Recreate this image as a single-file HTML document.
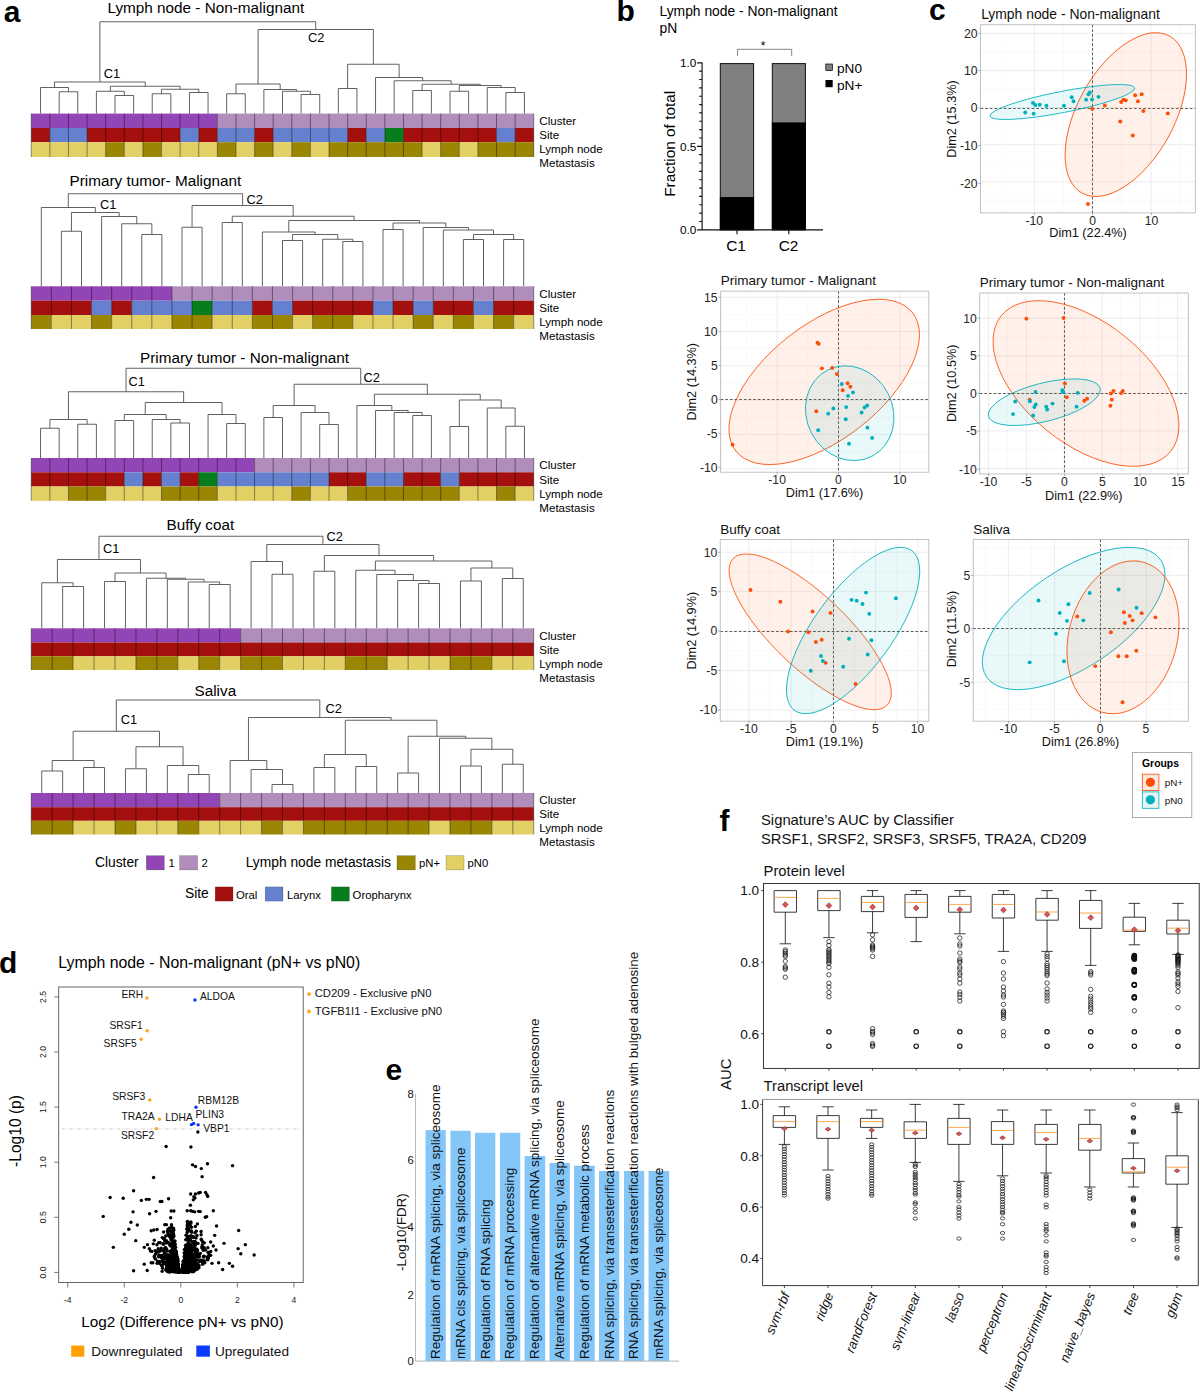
<!DOCTYPE html>
<html><head><meta charset="utf-8"><title>Figure</title>
<style>
html,body{margin:0;padding:0;background:#fff;}
body{width:1200px;height:1393px;overflow:hidden;}
svg{display:block;font-family:"Liberation Sans",sans-serif;}
text{white-space:pre;}
</style></head><body>
<svg width="1200" height="1393" viewBox="0 0 1200 1393">
<rect width="1200" height="1393" fill="#fff"/>
<g id="pa">
<path d="M59.17 113.6V91.75H77.78V113.6M40.56 113.6V87.5H68.47V91.75M115 113.6V95.5H133.61V113.6M96.39 113.6V91.25H124.31V95.5M152.22 113.6V93.75H170.83V113.6M189.44 113.6V92.5H208.06V113.6M161.53 93.75V89.25H198.75V92.5M110.35 91.25V86.25H180.14V89.25M54.51 87.5V82H145.24V86.25M226.67 113.6V93.75H245.28V113.6M301.11 113.6V94.5H319.72V113.6M282.5 113.6V91.25H310.42V94.5M263.89 113.6V89.5H296.46V91.25M235.97 93.75V84H280.17V89.5M338.33 113.6V88.5H356.94V113.6M412.78 113.6V90.5H431.39V113.6M450 113.6V91.25H468.61V113.6M505.83 113.6V92.5H524.44V113.6M487.22 113.6V87.5H515.14V92.5M459.31 91.25V85.5H501.18V87.5M422.08 90.5V84.25H480.24V85.5M394.17 113.6V80.75H451.16V84.25M375.56 113.6V77.5H422.66V80.75M347.64 88.5V64.25H399.11V77.5M258.07 84V29.5H373.37V64.25M99.88 82V21.75H315.72V29.5M61.4 286.3V231.25H81.5V286.3M141.8 286.3V234.5H161.9V286.3M121.7 286.3V223.75H151.85V234.5M101.6 286.3V216.5H136.78V223.75M71.45 231.25V212.5H119.19V216.5M41.3 286.3V207.5H95.32V212.5M182 286.3V227.25H202.1V286.3M222.2 286.3V222.5H242.3V286.3M282.5 286.3V240.5H302.6V286.3M342.8 286.3V241.5H362.9V286.3M322.7 286.3V239.25H352.85V241.5M292.55 240.5V234.5H337.78V239.25M262.4 286.3V232H315.16V234.5M383 286.3V229.5H403.1V286.3M463.4 286.3V239.5H483.5V286.3M503.6 286.3V239.5H523.7V286.3M473.45 239.5V234.5H513.65V239.5M443.3 286.3V230H493.55V234.5M423.2 286.3V227.5H468.43V230M393.05 229.5V223H445.81V227.5M288.78 232V220.5H419.43V223M232.25 222.5V216.25H354.11V220.5M192.05 227.25V205.5H293.18V216.25M68.31 207.5V193.75H242.61V205.5M40.56 458V428.25H59.17V458M77.78 458V424.25H96.39V458M49.86 428.25V419.5H87.08V424.25M115 458V420.5H133.61V458M170.83 458V423H189.44V458M152.22 458V419.5H180.14V423M124.31 420.5V414.5H166.18V419.5M226.67 458V423.5H245.28V458M208.06 458V414.5H235.97V423.5M145.24 414.5V402.5H222.01V414.5M68.47 419.5V391.75H183.63V402.5M263.89 458V417.5H282.5V458M319.72 458V424.5H338.33V458M301.11 458V412.5H329.03V424.5M273.19 417.5V405.5H315.07V412.5M412.78 458V415.5H431.39V458M394.17 458V412.5H422.08V415.5M375.56 458V410.5H408.12V412.5M356.94 458V405.5H391.84V410.5M450 458V426.5H468.61V458M505.83 458V426.25H524.44V458M487.22 458V408H515.14V426.25M459.31 426.5V400H501.18V408M374.39 405.5V394.25H480.24V400M294.13 405.5V384.25H427.32V394.25M126.05 391.75V368.25H360.72V384.25M62.66 628.3V586.5H83.59V628.3M41.72 628.3V582.75H73.12V586.5M104.53 628.3V581.5H125.47V628.3M209.22 628.3V584.5H230.16V628.3M188.28 628.3V582H219.69V584.5M167.34 628.3V579.25H203.98V582M146.41 628.3V578.25H185.66V579.25M115 581.5V573H166.04V578.25M57.42 582.75V559.5H140.52V573M272.03 628.3V574.25H292.97V628.3M251.09 628.3V561.5H282.5V574.25M313.91 628.3V571.25H334.84V628.3M418.59 628.3V583.5H439.53V628.3M397.66 628.3V580.5H429.06V583.5M376.72 628.3V574.5H413.36V580.5M355.78 628.3V570.25H395.04V574.5M460.47 628.3V581H481.41V628.3M502.34 628.3V578.5H523.28V628.3M470.94 581V568H512.81V578.5M375.41 570.25V561H491.88V568M324.38 571.25V555.5H433.64V561M266.8 561.5V544.5H379.01V555.5M98.97 559.5V536.25H322.9V544.5M41.72 793V771H62.66V793M83.59 793V767.5H104.53V793M52.19 771V760.5H94.06V767.5M125.47 793V768.75H146.41V793M188.28 793V774.5H209.22V793M167.34 793V765.5H198.75V774.5M135.94 768.75V746.75H183.05V765.5M73.12 760.5V731.25H159.49V746.75M272.03 793V784.5H292.97V793M251.09 793V769.5H282.5V784.5M230.16 793V760.5H266.8V769.5M313.91 793V767.5H334.84V793M355.78 793V766.5H376.72V793M324.38 767.5V754.5H366.25V766.5M397.66 793V773H418.59V793M460.47 793V766H481.41V793M502.34 793V764.25H523.28V793M470.94 766V749.25H512.81V764.25M439.53 793V738.25H491.88V749.25M408.12 773V736.25H465.7V738.25M345.31 754.5V720.25H436.91V736.25M248.48 760.5V717.5H391.11V720.25M116.31 731.25V700H319.79V717.5" stroke="#505050" stroke-width=".9" fill="none" shape-rendering="geometricPrecision"/>
<rect x="31.25" y="113.6" width="186.11" height="14.4" fill="#9245b5"/>
<rect x="217.36" y="113.6" width="316.39" height="14.4" fill="#b08dba"/>
<rect x="31.25" y="128" width="18.61" height="14.2" fill="#a3100e"/>
<rect x="49.86" y="128" width="37.22" height="14.2" fill="#6580cf"/>
<rect x="87.08" y="128" width="93.06" height="14.2" fill="#a3100e"/>
<rect x="180.14" y="128" width="18.61" height="14.2" fill="#6580cf"/>
<rect x="198.75" y="128" width="18.61" height="14.2" fill="#a3100e"/>
<rect x="217.36" y="128" width="37.22" height="14.2" fill="#6580cf"/>
<rect x="254.58" y="128" width="18.61" height="14.2" fill="#a3100e"/>
<rect x="273.19" y="128" width="74.44" height="14.2" fill="#6580cf"/>
<rect x="347.64" y="128" width="18.61" height="14.2" fill="#a3100e"/>
<rect x="366.25" y="128" width="18.61" height="14.2" fill="#6580cf"/>
<rect x="384.86" y="128" width="18.61" height="14.2" fill="#087d1e"/>
<rect x="403.47" y="128" width="93.06" height="14.2" fill="#a3100e"/>
<rect x="496.53" y="128" width="18.61" height="14.2" fill="#6580cf"/>
<rect x="515.14" y="128" width="18.61" height="14.2" fill="#a3100e"/>
<rect x="31.25" y="142.2" width="74.44" height="14.8" fill="#e3d065"/>
<rect x="105.69" y="142.2" width="18.61" height="14.8" fill="#9b8603"/>
<rect x="124.31" y="142.2" width="18.61" height="14.8" fill="#e3d065"/>
<rect x="142.92" y="142.2" width="18.61" height="14.8" fill="#9b8603"/>
<rect x="161.53" y="142.2" width="55.83" height="14.8" fill="#e3d065"/>
<rect x="217.36" y="142.2" width="18.61" height="14.8" fill="#9b8603"/>
<rect x="235.97" y="142.2" width="18.61" height="14.8" fill="#e3d065"/>
<rect x="254.58" y="142.2" width="18.61" height="14.8" fill="#9b8603"/>
<rect x="273.19" y="142.2" width="18.61" height="14.8" fill="#e3d065"/>
<rect x="291.81" y="142.2" width="18.61" height="14.8" fill="#9b8603"/>
<rect x="310.42" y="142.2" width="18.61" height="14.8" fill="#e3d065"/>
<rect x="329.03" y="142.2" width="93.06" height="14.8" fill="#9b8603"/>
<rect x="422.08" y="142.2" width="18.61" height="14.8" fill="#e3d065"/>
<rect x="440.69" y="142.2" width="18.61" height="14.8" fill="#9b8603"/>
<rect x="459.31" y="142.2" width="18.61" height="14.8" fill="#e3d065"/>
<rect x="477.92" y="142.2" width="55.83" height="14.8" fill="#9b8603"/>
<path d="M31.25 113.6V157M49.86 113.6V157M68.47 113.6V157M87.08 113.6V157M105.69 113.6V157M124.31 113.6V157M142.92 113.6V157M161.53 113.6V157M180.14 113.6V157M198.75 113.6V157M217.36 113.6V157M235.97 113.6V157M254.58 113.6V157M273.19 113.6V157M291.81 113.6V157M310.42 113.6V157M329.03 113.6V157M347.64 113.6V157M366.25 113.6V157M384.86 113.6V157M403.47 113.6V157M422.08 113.6V157M440.69 113.6V157M459.31 113.6V157M477.92 113.6V157M496.53 113.6V157M515.14 113.6V157M533.75 113.6V157" stroke="#000" stroke-opacity=".6" stroke-width=".7" fill="none"/>
<text x="539.3" y="124.8" font-size="11.6">Cluster</text>
<text x="539.3" y="139.2" font-size="11.6">Site</text>
<text x="539.3" y="153.4" font-size="11.6">Lymph node</text>
<text x="539.3" y="167.4" font-size="11.6">Metastasis</text>
<text x="107.5" y="13.1" font-size="15.3">Lymph node - Non-malignant</text>
<text x="103.7" y="78" font-size="12.8">C1</text>
<text x="308" y="42" font-size="12.8">C2</text>
<rect x="31.25" y="286.3" width="140.7" height="14.4" fill="#9245b5"/>
<rect x="171.95" y="286.3" width="361.8" height="14.4" fill="#b08dba"/>
<rect x="31.25" y="300.7" width="60.3" height="14.3" fill="#a3100e"/>
<rect x="91.55" y="300.7" width="20.1" height="14.3" fill="#6580cf"/>
<rect x="111.65" y="300.7" width="20.1" height="14.3" fill="#a3100e"/>
<rect x="131.75" y="300.7" width="60.3" height="14.3" fill="#6580cf"/>
<rect x="192.05" y="300.7" width="20.1" height="14.3" fill="#087d1e"/>
<rect x="212.15" y="300.7" width="40.2" height="14.3" fill="#6580cf"/>
<rect x="252.35" y="300.7" width="20.1" height="14.3" fill="#a3100e"/>
<rect x="272.45" y="300.7" width="20.1" height="14.3" fill="#6580cf"/>
<rect x="292.55" y="300.7" width="80.4" height="14.3" fill="#a3100e"/>
<rect x="372.95" y="300.7" width="20.1" height="14.3" fill="#6580cf"/>
<rect x="393.05" y="300.7" width="20.1" height="14.3" fill="#a3100e"/>
<rect x="413.15" y="300.7" width="20.1" height="14.3" fill="#6580cf"/>
<rect x="433.25" y="300.7" width="40.2" height="14.3" fill="#a3100e"/>
<rect x="473.45" y="300.7" width="20.1" height="14.3" fill="#6580cf"/>
<rect x="493.55" y="300.7" width="40.2" height="14.3" fill="#a3100e"/>
<rect x="31.25" y="315" width="20.1" height="14" fill="#9b8603"/>
<rect x="51.35" y="315" width="40.2" height="14" fill="#e3d065"/>
<rect x="91.55" y="315" width="20.1" height="14" fill="#9b8603"/>
<rect x="111.65" y="315" width="60.3" height="14" fill="#e3d065"/>
<rect x="171.95" y="315" width="40.2" height="14" fill="#9b8603"/>
<rect x="212.15" y="315" width="40.2" height="14" fill="#e3d065"/>
<rect x="252.35" y="315" width="40.2" height="14" fill="#9b8603"/>
<rect x="292.55" y="315" width="20.1" height="14" fill="#e3d065"/>
<rect x="312.65" y="315" width="40.2" height="14" fill="#9b8603"/>
<rect x="352.85" y="315" width="60.3" height="14" fill="#e3d065"/>
<rect x="413.15" y="315" width="20.1" height="14" fill="#9b8603"/>
<rect x="433.25" y="315" width="20.1" height="14" fill="#e3d065"/>
<rect x="453.35" y="315" width="20.1" height="14" fill="#9b8603"/>
<rect x="473.45" y="315" width="20.1" height="14" fill="#e3d065"/>
<rect x="493.55" y="315" width="20.1" height="14" fill="#9b8603"/>
<rect x="513.65" y="315" width="20.1" height="14" fill="#e3d065"/>
<path d="M31.25 286.3V329M51.35 286.3V329M71.45 286.3V329M91.55 286.3V329M111.65 286.3V329M131.75 286.3V329M151.85 286.3V329M171.95 286.3V329M192.05 286.3V329M212.15 286.3V329M232.25 286.3V329M252.35 286.3V329M272.45 286.3V329M292.55 286.3V329M312.65 286.3V329M332.75 286.3V329M352.85 286.3V329M372.95 286.3V329M393.05 286.3V329M413.15 286.3V329M433.25 286.3V329M453.35 286.3V329M473.45 286.3V329M493.55 286.3V329M513.65 286.3V329M533.75 286.3V329" stroke="#000" stroke-opacity=".6" stroke-width=".7" fill="none"/>
<text x="539.3" y="297.5" font-size="11.6">Cluster</text>
<text x="539.3" y="311.9" font-size="11.6">Site</text>
<text x="539.3" y="326.2" font-size="11.6">Lymph node</text>
<text x="539.3" y="340.2" font-size="11.6">Metastasis</text>
<text x="69.5" y="186.3" font-size="15.3">Primary tumor- Malignant</text>
<text x="100" y="208.5" font-size="12.8">C1</text>
<text x="246.5" y="204" font-size="12.8">C2</text>
<rect x="31.25" y="458" width="223.33" height="14.3" fill="#9245b5"/>
<rect x="254.58" y="458" width="279.17" height="14.3" fill="#b08dba"/>
<rect x="31.25" y="472.3" width="93.06" height="14.2" fill="#a3100e"/>
<rect x="124.31" y="472.3" width="18.61" height="14.2" fill="#6580cf"/>
<rect x="142.92" y="472.3" width="18.61" height="14.2" fill="#a3100e"/>
<rect x="161.53" y="472.3" width="18.61" height="14.2" fill="#6580cf"/>
<rect x="180.14" y="472.3" width="18.61" height="14.2" fill="#a3100e"/>
<rect x="198.75" y="472.3" width="18.61" height="14.2" fill="#087d1e"/>
<rect x="217.36" y="472.3" width="111.67" height="14.2" fill="#6580cf"/>
<rect x="329.03" y="472.3" width="37.22" height="14.2" fill="#a3100e"/>
<rect x="366.25" y="472.3" width="37.22" height="14.2" fill="#6580cf"/>
<rect x="403.47" y="472.3" width="37.22" height="14.2" fill="#a3100e"/>
<rect x="440.69" y="472.3" width="18.61" height="14.2" fill="#6580cf"/>
<rect x="459.31" y="472.3" width="74.44" height="14.2" fill="#a3100e"/>
<rect x="31.25" y="486.5" width="37.22" height="14.3" fill="#e3d065"/>
<rect x="68.47" y="486.5" width="37.22" height="14.3" fill="#9b8603"/>
<rect x="105.69" y="486.5" width="55.83" height="14.3" fill="#e3d065"/>
<rect x="161.53" y="486.5" width="55.83" height="14.3" fill="#9b8603"/>
<rect x="217.36" y="486.5" width="74.44" height="14.3" fill="#e3d065"/>
<rect x="291.81" y="486.5" width="18.61" height="14.3" fill="#9b8603"/>
<rect x="310.42" y="486.5" width="37.22" height="14.3" fill="#e3d065"/>
<rect x="347.64" y="486.5" width="111.67" height="14.3" fill="#9b8603"/>
<rect x="459.31" y="486.5" width="37.22" height="14.3" fill="#e3d065"/>
<rect x="496.53" y="486.5" width="18.61" height="14.3" fill="#9b8603"/>
<rect x="515.14" y="486.5" width="18.61" height="14.3" fill="#e3d065"/>
<path d="M31.25 458V500.8M49.86 458V500.8M68.47 458V500.8M87.08 458V500.8M105.69 458V500.8M124.31 458V500.8M142.92 458V500.8M161.53 458V500.8M180.14 458V500.8M198.75 458V500.8M217.36 458V500.8M235.97 458V500.8M254.58 458V500.8M273.19 458V500.8M291.81 458V500.8M310.42 458V500.8M329.03 458V500.8M347.64 458V500.8M366.25 458V500.8M384.86 458V500.8M403.47 458V500.8M422.08 458V500.8M440.69 458V500.8M459.31 458V500.8M477.92 458V500.8M496.53 458V500.8M515.14 458V500.8M533.75 458V500.8" stroke="#000" stroke-opacity=".6" stroke-width=".7" fill="none"/>
<text x="539.3" y="469.2" font-size="11.6">Cluster</text>
<text x="539.3" y="483.5" font-size="11.6">Site</text>
<text x="539.3" y="497.7" font-size="11.6">Lymph node</text>
<text x="539.3" y="511.7" font-size="11.6">Metastasis</text>
<text x="140" y="363" font-size="15.3">Primary tumor - Non-malignant</text>
<text x="128.5" y="385.5" font-size="12.8">C1</text>
<text x="363.5" y="382" font-size="12.8">C2</text>
<rect x="31.25" y="628.3" width="209.38" height="14.2" fill="#9245b5"/>
<rect x="240.62" y="628.3" width="293.12" height="14.2" fill="#b08dba"/>
<rect x="31.25" y="642.5" width="502.5" height="13.8" fill="#a3100e"/>
<rect x="31.25" y="656.3" width="41.88" height="13.7" fill="#9b8603"/>
<rect x="73.12" y="656.3" width="62.81" height="13.7" fill="#e3d065"/>
<rect x="135.94" y="656.3" width="41.88" height="13.7" fill="#9b8603"/>
<rect x="177.81" y="656.3" width="20.94" height="13.7" fill="#e3d065"/>
<rect x="198.75" y="656.3" width="20.94" height="13.7" fill="#9b8603"/>
<rect x="219.69" y="656.3" width="20.94" height="13.7" fill="#e3d065"/>
<rect x="240.62" y="656.3" width="41.88" height="13.7" fill="#9b8603"/>
<rect x="282.5" y="656.3" width="62.81" height="13.7" fill="#e3d065"/>
<rect x="345.31" y="656.3" width="41.88" height="13.7" fill="#9b8603"/>
<rect x="387.19" y="656.3" width="62.81" height="13.7" fill="#e3d065"/>
<rect x="450" y="656.3" width="41.88" height="13.7" fill="#9b8603"/>
<rect x="491.88" y="656.3" width="41.88" height="13.7" fill="#e3d065"/>
<path d="M31.25 628.3V670M52.19 628.3V670M73.12 628.3V670M94.06 628.3V670M115 628.3V670M135.94 628.3V670M156.88 628.3V670M177.81 628.3V670M198.75 628.3V670M219.69 628.3V670M240.62 628.3V670M261.56 628.3V670M282.5 628.3V670M303.44 628.3V670M324.38 628.3V670M345.31 628.3V670M366.25 628.3V670M387.19 628.3V670M408.12 628.3V670M429.06 628.3V670M450 628.3V670M470.94 628.3V670M491.88 628.3V670M512.81 628.3V670M533.75 628.3V670" stroke="#000" stroke-opacity=".6" stroke-width=".7" fill="none"/>
<text x="539.3" y="639.5" font-size="11.6">Cluster</text>
<text x="539.3" y="653.7" font-size="11.6">Site</text>
<text x="539.3" y="667.5" font-size="11.6">Lymph node</text>
<text x="539.3" y="681.5" font-size="11.6">Metastasis</text>
<text x="166.5" y="530" font-size="15.3">Buffy coat</text>
<text x="103" y="552.5" font-size="12.8">C1</text>
<text x="326.5" y="541" font-size="12.8">C2</text>
<rect x="31.25" y="793" width="188.44" height="14.2" fill="#9245b5"/>
<rect x="219.69" y="793" width="314.06" height="14.2" fill="#b08dba"/>
<rect x="31.25" y="807.2" width="502.5" height="13.6" fill="#a3100e"/>
<rect x="31.25" y="820.8" width="41.88" height="13.7" fill="#9b8603"/>
<rect x="73.12" y="820.8" width="41.88" height="13.7" fill="#e3d065"/>
<rect x="115" y="820.8" width="20.94" height="13.7" fill="#9b8603"/>
<rect x="135.94" y="820.8" width="41.88" height="13.7" fill="#e3d065"/>
<rect x="177.81" y="820.8" width="20.94" height="13.7" fill="#9b8603"/>
<rect x="198.75" y="820.8" width="62.81" height="13.7" fill="#e3d065"/>
<rect x="261.56" y="820.8" width="20.94" height="13.7" fill="#9b8603"/>
<rect x="282.5" y="820.8" width="20.94" height="13.7" fill="#e3d065"/>
<rect x="303.44" y="820.8" width="125.62" height="13.7" fill="#9b8603"/>
<rect x="429.06" y="820.8" width="20.94" height="13.7" fill="#e3d065"/>
<rect x="450" y="820.8" width="41.88" height="13.7" fill="#9b8603"/>
<rect x="491.88" y="820.8" width="41.88" height="13.7" fill="#e3d065"/>
<path d="M31.25 793V834.5M52.19 793V834.5M73.12 793V834.5M94.06 793V834.5M115 793V834.5M135.94 793V834.5M156.88 793V834.5M177.81 793V834.5M198.75 793V834.5M219.69 793V834.5M240.62 793V834.5M261.56 793V834.5M282.5 793V834.5M303.44 793V834.5M324.38 793V834.5M345.31 793V834.5M366.25 793V834.5M387.19 793V834.5M408.12 793V834.5M429.06 793V834.5M450 793V834.5M470.94 793V834.5M491.88 793V834.5M512.81 793V834.5M533.75 793V834.5" stroke="#000" stroke-opacity=".6" stroke-width=".7" fill="none"/>
<text x="539.3" y="804.2" font-size="11.6">Cluster</text>
<text x="539.3" y="818.4" font-size="11.6">Site</text>
<text x="539.3" y="832" font-size="11.6">Lymph node</text>
<text x="539.3" y="846" font-size="11.6">Metastasis</text>
<text x="194.5" y="695.5" font-size="15.3">Saliva</text>
<text x="120.8" y="724.2" font-size="12.8">C1</text>
<text x="325.5" y="712.5" font-size="12.8">C2</text>
<text x="3.8" y="22.3" font-size="30" font-weight="bold">a</text>
<text x="95" y="867" font-size="13.8">Cluster</text>
<rect x="146.3" y="855.7" width="18" height="14.2" fill="#9245b5" stroke="#000" stroke-opacity=".35" stroke-width=".5"/>
<text x="168.5" y="867.2" font-size="11.3">1</text>
<rect x="179.6" y="855.7" width="18" height="14.2" fill="#b08dba" stroke="#000" stroke-opacity=".35" stroke-width=".5"/>
<text x="201.5" y="867.2" font-size="11.3">2</text>
<text x="245.7" y="867" font-size="13.8">Lymph node metastasis</text>
<rect x="397" y="855.7" width="18.3" height="14.2" fill="#9b8603" stroke="#000" stroke-opacity=".35" stroke-width=".5"/>
<text x="419" y="867.2" font-size="11.3">pN+</text>
<rect x="446" y="855.7" width="18" height="14.2" fill="#e3d065" stroke="#000" stroke-opacity=".35" stroke-width=".5"/>
<text x="467.5" y="867.2" font-size="11.3">pN0</text>
<text x="185" y="898.3" font-size="13.8">Site</text>
<rect x="215.2" y="886.9" width="17.8" height="14.2" fill="#a3100e" stroke="#000" stroke-opacity=".35" stroke-width=".5"/>
<text x="236" y="898.8" font-size="11.3">Oral</text>
<rect x="265.2" y="886.9" width="17.8" height="14.2" fill="#6580cf" stroke="#000" stroke-opacity=".35" stroke-width=".5"/>
<text x="287" y="898.8" font-size="11.3">Larynx</text>
<rect x="331.4" y="886.9" width="18" height="14.2" fill="#087d1e" stroke="#000" stroke-opacity=".35" stroke-width=".5"/>
<text x="352.6" y="898.8" font-size="11.3">Oropharynx</text>
</g>
<g id="pb">
<text x="616.6" y="21.4" font-size="30" font-weight="bold">b</text>
<text x="659.5" y="15.6" font-size="13.85">Lymph node - Non-malignant</text>
<text x="659.5" y="33.2" font-size="13.85">pN</text>
<rect x="720.3" y="63.6" width="33.3" height="166.2" fill="#80807f" stroke="#111" stroke-width="1"/><rect x="719.85" y="197.06" width="34.2" height="33.14" fill="#000"/>
<rect x="772.3" y="63.6" width="33.1" height="166.2" fill="#80807f" stroke="#111" stroke-width="1"/><rect x="771.85" y="122.43" width="34" height="107.77" fill="#000"/>
<path d="M702.1 62.3V229.8H823M702.1 229.8H697.1M702.1 146.3H697.1M702.1 62.8H697.1M702.1 221.45H699.2M702.1 213.1H699.2M702.1 204.75H699.2M702.1 196.4H699.2M702.1 188.05H699.2M702.1 179.7H699.2M702.1 171.35H699.2M702.1 163H699.2M702.1 154.65H699.2M702.1 137.95H699.2M702.1 129.6H699.2M702.1 121.25H699.2M702.1 112.9H699.2M702.1 104.55H699.2M702.1 96.2H699.2M702.1 87.85H699.2M702.1 79.5H699.2M702.1 71.15H699.2M737 229.8V234.3M788.8 229.8V234.3" stroke="#111" stroke-width="1.15" fill="none"/>
<text x="696.3" y="234" font-size="11.8" text-anchor="end">0.0</text>
<text x="696.3" y="150.5" font-size="11.8" text-anchor="end">0.5</text>
<text x="696.3" y="67" font-size="11.8" text-anchor="end">1.0</text>
<text x="675" y="143.8" font-size="15.4" text-anchor="middle" transform="rotate(-90 675 143.8)">Fraction of total</text>
<text x="736" y="250.5" font-size="15.4" text-anchor="middle">C1</text>
<text x="788.5" y="250.5" font-size="15.4" text-anchor="middle">C2</text>
<path d="M737.5 56V49.3H791.7V56" stroke="#666" stroke-width=".8" fill="none"/>
<text x="763" y="49.5" font-size="12" text-anchor="middle">*</text>
<rect x="825.8" y="64" width="6.6" height="6.6" fill="#808080" stroke="#000" stroke-width=".7"/>
<rect x="825.5" y="80" width="7.2" height="7.2" fill="#000"/>
<text x="837" y="72.6" font-size="13.6">pN0</text>
<text x="837" y="89.6" font-size="13.6">pN+</text>
</g>
<g id="pc">
<text x="929" y="20.4" font-size="30" font-weight="bold">c</text>
<defs>
<clipPath id="cc0"><rect x="980.55" y="24.73" width="214.78" height="188.18"/></clipPath>
<clipPath id="cc1"><rect x="720.67" y="291.13" width="208.13" height="181.07"/></clipPath>
<clipPath id="cc2"><rect x="979.73" y="293" width="208.6" height="180.95"/></clipPath>
<clipPath id="cc3"><rect x="720.2" y="539.4" width="208.6" height="181.77"/></clipPath>
<clipPath id="cc4"><rect x="973.2" y="539.4" width="215.13" height="181.77"/></clipPath>
</defs>
<path d="M1005.17 24.73V212.92M1063.5 24.73V212.92M1121.83 24.73V212.92M1180.17 24.73V212.92M980.55 51.92H1195.33M980.55 89.02H1195.33M980.55 126.12H1195.33M980.55 163.22H1195.33M980.55 200.32H1195.33" stroke="#f3f3f3" stroke-width=".5" fill="none"/>
<path d="M1034.33 24.73V212.92M1092.67 24.73V212.92M1151 24.73V212.92M980.55 33.37H1195.33M980.55 70.47H1195.33M980.55 107.57H1195.33M980.55 144.67H1195.33M980.55 181.77H1195.33" stroke="#e8e8e8" stroke-width=".8" fill="none"/>
<path d="M980.55 108.5H1195.33M1092.5 24.73V212.92" stroke="#3c3c3c" stroke-width=".85" stroke-dasharray="2.6 2.05" fill="none"/>
<g clip-path="url(#cc0)">
<ellipse cx="1125.8" cy="114.6" rx="48.1" ry="89.9" transform="rotate(29.2 1125.8 114.6)" fill="#fc4e07" fill-opacity=".088" stroke="#fc4e07" stroke-width=".8"/>
<ellipse cx="1062.4" cy="102" rx="73.8" ry="10.6" transform="rotate(-11 1062.4 102)" fill="#00afbb" fill-opacity=".088" stroke="#00afbb" stroke-width=".8"/>
</g>
<g fill="#fc4e07"><circle cx="1088" cy="203.93" r="1.95"/><circle cx="1092.2" cy="108.73" r="1.95"/><circle cx="1104.8" cy="105.47" r="1.95"/><circle cx="1120.2" cy="121.57" r="1.95"/><circle cx="1121.13" cy="101.97" r="1.95"/><circle cx="1123.47" cy="99.63" r="1.95"/><circle cx="1125.8" cy="100.33" r="1.95"/><circle cx="1132.8" cy="135.57" r="1.95"/><circle cx="1135.13" cy="95.2" r="1.95"/><circle cx="1137.93" cy="101.27" r="1.95"/><circle cx="1141.67" cy="94.27" r="1.95"/><circle cx="1143.3" cy="111.07" r="1.95"/><circle cx="1167.8" cy="113.4" r="1.95"/></g>
<g fill="#00afbb"><circle cx="1025.23" cy="112.47" r="1.95"/><circle cx="1033.63" cy="113.63" r="1.95"/><circle cx="1032.93" cy="102.9" r="1.95"/><circle cx="1035.27" cy="105" r="1.95"/><circle cx="1039.7" cy="104.77" r="1.95"/><circle cx="1046.47" cy="105.7" r="1.95"/><circle cx="1063.97" cy="105.7" r="1.95"/><circle cx="1071.67" cy="97.3" r="1.95"/><circle cx="1073.53" cy="101.27" r="1.95"/><circle cx="1086.13" cy="99.63" r="1.95"/><circle cx="1088.47" cy="94.27" r="1.95"/><circle cx="1089.87" cy="92.4" r="1.95"/><circle cx="1091.97" cy="99.4" r="1.95"/><circle cx="1098.5" cy="96.83" r="1.95"/></g>
<rect x="980.55" y="24.73" width="214.78" height="188.18" fill="none" stroke="#b2b2b2" stroke-width=".8"/>
<text x="1034.33" y="225.12" font-size="12.2" text-anchor="middle" fill="#262626">-10</text>
<text x="1092.67" y="225.12" font-size="12.2" text-anchor="middle" fill="#262626">0</text>
<text x="1151.47" y="225.12" font-size="12.2" text-anchor="middle" fill="#262626">10</text>
<text x="977.55" y="37.67" font-size="12.2" text-anchor="end" fill="#262626">20</text>
<text x="977.55" y="74.77" font-size="12.2" text-anchor="end" fill="#262626">10</text>
<text x="977.55" y="112.33" font-size="12.2" text-anchor="end" fill="#262626">0</text>
<text x="977.55" y="149.9" font-size="12.2" text-anchor="end" fill="#262626">-10</text>
<text x="977.55" y="187.7" font-size="12.2" text-anchor="end" fill="#262626">-20</text>
<path d="M1034.33 212.92V215.12M1092.67 212.92V215.12M1151.47 212.92V215.12M980.55 33.37H978.35M980.55 70.47H978.35M980.55 108.03H978.35M980.55 145.6H978.35M980.55 183.4H978.35" stroke="#777" stroke-width=".6" fill="none"/>
<text x="981.13" y="19.13" font-size="13.9" fill="#111">Lymph node - Non-malignant</text>
<text x="1088" y="237.37" font-size="12.7" text-anchor="middle" fill="#111">Dim1 (22.4%)</text>
<text x="956.1" y="119" font-size="12.7" text-anchor="middle" fill="#111" transform="rotate(-90 956.1 119)">Dim2 (15.3%)</text>
<path d="M746.45 291.13V472.2M807.82 291.13V472.2M869.18 291.13V472.2M720.67 314.35H928.8M720.67 348.65H928.8M720.67 382.95H928.8M720.67 417.25H928.8M720.67 451.55H928.8" stroke="#f3f3f3" stroke-width=".5" fill="none"/>
<path d="M777.13 291.13V472.2M838.5 291.13V472.2M899.87 291.13V472.2M720.67 297.2H928.8M720.67 331.5H928.8M720.67 365.8H928.8M720.67 400.1H928.8M720.67 434.4H928.8M720.67 468.7H928.8" stroke="#e8e8e8" stroke-width=".8" fill="none"/>
<path d="M720.67 399.5H928.8M838.5 291.13V472.2" stroke="#3c3c3c" stroke-width=".85" stroke-dasharray="2.6 2.05" fill="none"/>
<g clip-path="url(#cc1)">
<ellipse cx="824.2" cy="381.9" rx="112.2" ry="57.6" transform="rotate(-38 824.2 381.9)" fill="#fc4e07" fill-opacity=".088" stroke="#fc4e07" stroke-width=".8"/>
<ellipse cx="849.7" cy="413.2" rx="48.5" ry="43.1" transform="rotate(62.8 849.7 413.2)" fill="#00afbb" fill-opacity=".088" stroke="#00afbb" stroke-width=".8"/>
</g>
<g fill="#fc4e07"><circle cx="817.5" cy="342.7" r="1.95"/><circle cx="818.67" cy="343.87" r="1.95"/><circle cx="821.93" cy="368.37" r="1.95"/><circle cx="832.2" cy="367.9" r="1.95"/><circle cx="836.87" cy="373.97" r="1.95"/><circle cx="847.6" cy="383.3" r="1.95"/><circle cx="850.4" cy="386.8" r="1.95"/><circle cx="842.7" cy="390.3" r="1.95"/><circle cx="816.33" cy="411.3" r="1.95"/><circle cx="732.57" cy="444.67" r="1.95"/></g>
<g fill="#00afbb"><circle cx="841.77" cy="384" r="1.95"/><circle cx="852.97" cy="392.4" r="1.95"/><circle cx="848.07" cy="395.9" r="1.95"/><circle cx="867.2" cy="405.47" r="1.95"/><circle cx="864.63" cy="407.57" r="1.95"/><circle cx="861.6" cy="412.47" r="1.95"/><circle cx="846.2" cy="407.1" r="1.95"/><circle cx="833.37" cy="408.5" r="1.95"/><circle cx="828.23" cy="413.63" r="1.95"/><circle cx="845.73" cy="419.23" r="1.95"/><circle cx="818.2" cy="430.2" r="1.95"/><circle cx="867.43" cy="427.63" r="1.95"/><circle cx="872.1" cy="437.9" r="1.95"/><circle cx="849" cy="443.73" r="1.95"/></g>
<rect x="720.67" y="291.13" width="208.13" height="181.07" fill="none" stroke="#b2b2b2" stroke-width=".8"/>
<text x="777.13" y="484.4" font-size="12.2" text-anchor="middle" fill="#262626">-10</text>
<text x="838.5" y="484.4" font-size="12.2" text-anchor="middle" fill="#262626">0</text>
<text x="899.87" y="484.4" font-size="12.2" text-anchor="middle" fill="#262626">10</text>
<text x="717.67" y="301.5" font-size="12.2" text-anchor="end" fill="#262626">15</text>
<text x="717.67" y="335.8" font-size="12.2" text-anchor="end" fill="#262626">10</text>
<text x="717.67" y="369.63" font-size="12.2" text-anchor="end" fill="#262626">5</text>
<text x="717.67" y="403.7" font-size="12.2" text-anchor="end" fill="#262626">0</text>
<text x="717.67" y="437.53" font-size="12.2" text-anchor="end" fill="#262626">-5</text>
<text x="717.67" y="471.6" font-size="12.2" text-anchor="end" fill="#262626">-10</text>
<path d="M777.13 472.2V474.4M838.5 472.2V474.4M899.87 472.2V474.4M720.67 297.2H718.47M720.67 331.5H718.47M720.67 365.33H718.47M720.67 399.4H718.47M720.67 433.23H718.47M720.67 467.3H718.47" stroke="#777" stroke-width=".6" fill="none"/>
<text x="720.67" y="284.83" font-size="13.5" fill="#111">Primary tumor - Malignant</text>
<text x="824.5" y="497.47" font-size="12.7" text-anchor="middle" fill="#111">Dim1 (17.6%)</text>
<text x="696.1" y="381.67" font-size="12.7" text-anchor="middle" fill="#111" transform="rotate(-90 696.1 381.67)">Dim2 (14.3%)</text>
<path d="M1007.5 293V473.95M1045.3 293V473.95M1083.1 293V473.95M1120.9 293V473.95M1158.7 293V473.95M979.73 299.42H1188.33M979.73 336.98H1188.33M979.73 374.55H1188.33M979.73 412.12H1188.33M979.73 449.68H1188.33" stroke="#f3f3f3" stroke-width=".5" fill="none"/>
<path d="M988.6 293V473.95M1026.4 293V473.95M1064.2 293V473.95M1102 293V473.95M1139.8 293V473.95M1177.6 293V473.95M979.73 318.2H1188.33M979.73 355.77H1188.33M979.73 393.33H1188.33M979.73 430.9H1188.33M979.73 468.47H1188.33" stroke="#e8e8e8" stroke-width=".8" fill="none"/>
<path d="M979.73 393.5H1188.33M1064.5 293V473.95" stroke="#3c3c3c" stroke-width=".85" stroke-dasharray="2.6 2.05" fill="none"/>
<g clip-path="url(#cc2)">
<ellipse cx="1086" cy="383.5" rx="108.5" ry="61.1" transform="rotate(38.6 1086 383.5)" fill="#fc4e07" fill-opacity=".088" stroke="#fc4e07" stroke-width=".8"/>
<ellipse cx="1044.3" cy="402.2" rx="57.6" ry="19.2" transform="rotate(-14.1 1044.3 402.2)" fill="#00afbb" fill-opacity=".088" stroke="#00afbb" stroke-width=".8"/>
</g>
<g fill="#fc4e07"><circle cx="1026.4" cy="318.67" r="1.95"/><circle cx="1063.5" cy="317.97" r="1.95"/><circle cx="1064.9" cy="383.53" r="1.95"/><circle cx="1066.77" cy="397.3" r="1.95"/><circle cx="1029.67" cy="399.63" r="1.95"/><circle cx="1084.27" cy="400.8" r="1.95"/><circle cx="1087.07" cy="398.7" r="1.95"/><circle cx="1110.87" cy="393.57" r="1.95"/><circle cx="1113.43" cy="391" r="1.95"/><circle cx="1111.8" cy="399.63" r="1.95"/><circle cx="1110.4" cy="405.7" r="1.95"/><circle cx="1121.13" cy="393.1" r="1.95"/><circle cx="1122.77" cy="391" r="1.95"/></g>
<g fill="#00afbb"><circle cx="1035.5" cy="391.93" r="1.95"/><circle cx="1062.33" cy="390.3" r="1.95"/><circle cx="1062.8" cy="392.17" r="1.95"/><circle cx="1077.73" cy="392.87" r="1.95"/><circle cx="1015.2" cy="401.5" r="1.95"/><circle cx="1029.9" cy="401.27" r="1.95"/><circle cx="1035.73" cy="404.53" r="1.95"/><circle cx="1034.33" cy="407.1" r="1.95"/><circle cx="1046.23" cy="406.63" r="1.95"/><circle cx="1047.17" cy="409.43" r="1.95"/><circle cx="1052.53" cy="403.6" r="1.95"/><circle cx="1076.57" cy="406.63" r="1.95"/><circle cx="1013.1" cy="414.1" r="1.95"/><circle cx="1033.17" cy="415.5" r="1.95"/></g>
<rect x="979.73" y="293" width="208.6" height="180.95" fill="none" stroke="#b2b2b2" stroke-width=".8"/>
<text x="988.6" y="486.15" font-size="12.2" text-anchor="middle" fill="#262626">-10</text>
<text x="1026.4" y="486.15" font-size="12.2" text-anchor="middle" fill="#262626">-5</text>
<text x="1064.43" y="486.15" font-size="12.2" text-anchor="middle" fill="#262626">0</text>
<text x="1102.47" y="486.15" font-size="12.2" text-anchor="middle" fill="#262626">5</text>
<text x="1140.03" y="486.15" font-size="12.2" text-anchor="middle" fill="#262626">10</text>
<text x="1178.07" y="486.15" font-size="12.2" text-anchor="middle" fill="#262626">15</text>
<text x="976.73" y="322.5" font-size="12.2" text-anchor="end" fill="#262626">10</text>
<text x="976.73" y="360.07" font-size="12.2" text-anchor="end" fill="#262626">5</text>
<text x="976.73" y="397.63" font-size="12.2" text-anchor="end" fill="#262626">0</text>
<text x="976.73" y="435.43" font-size="12.2" text-anchor="end" fill="#262626">-5</text>
<text x="976.73" y="473.7" font-size="12.2" text-anchor="end" fill="#262626">-10</text>
<path d="M988.6 473.95V476.15M1026.4 473.95V476.15M1064.43 473.95V476.15M1102.47 473.95V476.15M1140.03 473.95V476.15M1178.07 473.95V476.15M979.73 318.2H977.53M979.73 355.77H977.53M979.73 393.33H977.53M979.73 431.13H977.53M979.73 469.4H977.53" stroke="#777" stroke-width=".6" fill="none"/>
<text x="979.73" y="287.4" font-size="13.5" fill="#111">Primary tumor - Non-malignant</text>
<text x="1083.8" y="499.8" font-size="12.7" text-anchor="middle" fill="#111">Dim1 (22.9%)</text>
<text x="956.1" y="383.3" font-size="12.7" text-anchor="middle" fill="#111" transform="rotate(-90 956.1 383.3)">Dim2 (10.5%)</text>
<path d="M727.78 539.4V721.17M770.02 539.4V721.17M812.25 539.4V721.17M854.48 539.4V721.17M896.72 539.4V721.17M720.2 571.95H928.8M720.2 611.38H928.8M720.2 650.82H928.8M720.2 690.25H928.8" stroke="#f3f3f3" stroke-width=".5" fill="none"/>
<path d="M748.9 539.4V721.17M791.13 539.4V721.17M833.37 539.4V721.17M875.6 539.4V721.17M917.83 539.4V721.17M720.2 552.23H928.8M720.2 591.67H928.8M720.2 631.1H928.8M720.2 670.53H928.8M720.2 709.97H928.8" stroke="#e8e8e8" stroke-width=".8" fill="none"/>
<path d="M720.2 631.5H928.8M833.5 539.4V721.17" stroke="#3c3c3c" stroke-width=".85" stroke-dasharray="2.6 2.05" fill="none"/>
<g clip-path="url(#cc3)">
<ellipse cx="810.2" cy="631.8" rx="106.3" ry="36.7" transform="rotate(43.5 810.2 631.8)" fill="#fc4e07" fill-opacity=".088" stroke="#fc4e07" stroke-width=".8"/>
<ellipse cx="853.1" cy="630.5" rx="99.1" ry="39.2" transform="rotate(-53.7 853.1 630.5)" fill="#00afbb" fill-opacity=".088" stroke="#00afbb" stroke-width=".8"/>
</g>
<g fill="#fc4e07"><circle cx="750.53" cy="590.03" r="1.95"/><circle cx="780.4" cy="601.7" r="1.95"/><circle cx="812.6" cy="611.5" r="1.95"/><circle cx="830.57" cy="612.9" r="1.95"/><circle cx="788.1" cy="631.57" r="1.95"/><circle cx="808.4" cy="632.27" r="1.95"/><circle cx="821.7" cy="639.73" r="1.95"/><circle cx="815.87" cy="642.07" r="1.95"/><circle cx="825.67" cy="662.83" r="1.95"/><circle cx="855.53" cy="684.07" r="1.95"/></g>
<g fill="#00afbb"><circle cx="866.03" cy="592.6" r="1.95"/><circle cx="851.57" cy="599.83" r="1.95"/><circle cx="856.7" cy="600.77" r="1.95"/><circle cx="862.53" cy="604.03" r="1.95"/><circle cx="895.9" cy="598.2" r="1.95"/><circle cx="869.3" cy="613.83" r="1.95"/><circle cx="849" cy="638.8" r="1.95"/><circle cx="871.4" cy="640.2" r="1.95"/><circle cx="867.67" cy="654.43" r="1.95"/><circle cx="821" cy="656.07" r="1.95"/><circle cx="822.87" cy="660.97" r="1.95"/><circle cx="843.17" cy="666.8" r="1.95"/><circle cx="810.73" cy="670.77" r="1.95"/></g>
<rect x="720.2" y="539.4" width="208.6" height="181.77" fill="none" stroke="#b2b2b2" stroke-width=".8"/>
<text x="748.9" y="733.37" font-size="12.2" text-anchor="middle" fill="#262626">-10</text>
<text x="791.13" y="733.37" font-size="12.2" text-anchor="middle" fill="#262626">-5</text>
<text x="833.37" y="733.37" font-size="12.2" text-anchor="middle" fill="#262626">0</text>
<text x="875.37" y="733.37" font-size="12.2" text-anchor="middle" fill="#262626">5</text>
<text x="917.6" y="733.37" font-size="12.2" text-anchor="middle" fill="#262626">10</text>
<text x="717.2" y="556.53" font-size="12.2" text-anchor="end" fill="#262626">10</text>
<text x="717.2" y="595.97" font-size="12.2" text-anchor="end" fill="#262626">5</text>
<text x="717.2" y="635.4" font-size="12.2" text-anchor="end" fill="#262626">0</text>
<text x="717.2" y="674.83" font-size="12.2" text-anchor="end" fill="#262626">-5</text>
<text x="717.2" y="714.27" font-size="12.2" text-anchor="end" fill="#262626">-10</text>
<path d="M748.9 721.17V723.37M791.13 721.17V723.37M833.37 721.17V723.37M875.37 721.17V723.37M917.6 721.17V723.37M720.2 552.23H718M720.2 591.67H718M720.2 631.1H718M720.2 670.53H718M720.2 709.97H718" stroke="#777" stroke-width=".6" fill="none"/>
<text x="720.2" y="533.8" font-size="13.5" fill="#111">Buffy coat</text>
<text x="824.5" y="746.2" font-size="12.7" text-anchor="middle" fill="#111">Dim1 (19.1%)</text>
<text x="696.1" y="630.63" font-size="12.7" text-anchor="middle" fill="#111" transform="rotate(-90 696.1 630.63)">Dim2 (14.9%)</text>
<path d="M985.45 539.4V721.17M1031.42 539.4V721.17M1077.38 539.4V721.17M1123.35 539.4V721.17M1169.32 539.4V721.17M973.2 548.62H1188.33M973.2 602.05H1188.33M973.2 655.48H1188.33M973.2 708.92H1188.33" stroke="#f3f3f3" stroke-width=".5" fill="none"/>
<path d="M1008.43 539.4V721.17M1054.4 539.4V721.17M1100.37 539.4V721.17M1146.33 539.4V721.17M973.2 575.33H1188.33M973.2 628.77H1188.33M973.2 682.2H1188.33" stroke="#e8e8e8" stroke-width=".8" fill="none"/>
<path d="M973.2 628.5H1188.33M1100.5 539.4V721.17" stroke="#3c3c3c" stroke-width=".85" stroke-dasharray="2.6 2.05" fill="none"/>
<g clip-path="url(#cc4)">
<ellipse cx="1073.65" cy="618.5" rx="104.9" ry="49" transform="rotate(-33.8 1073.65 618.5)" fill="#00afbb" fill-opacity=".088" stroke="#00afbb" stroke-width=".8"/>
<ellipse cx="1123" cy="637.3" rx="77.8" ry="54.1" transform="rotate(-74.9 1123 637.3)" fill="#fc4e07" fill-opacity=".088" stroke="#fc4e07" stroke-width=".8"/>
</g>
<g fill="#fc4e07"><circle cx="1077.27" cy="616.4" r="1.95"/><circle cx="1123.93" cy="612.2" r="1.95"/><circle cx="1129.77" cy="615.93" r="1.95"/><circle cx="1132.57" cy="620.37" r="1.95"/><circle cx="1124.87" cy="622.93" r="1.95"/><circle cx="1141.67" cy="613.13" r="1.95"/><circle cx="1155.43" cy="617.33" r="1.95"/><circle cx="1110.87" cy="632.27" r="1.95"/><circle cx="1136.3" cy="650.7" r="1.95"/><circle cx="1118.33" cy="656.3" r="1.95"/><circle cx="1126.73" cy="656.3" r="1.95"/><circle cx="1095.23" cy="666.1" r="1.95"/><circle cx="1122.53" cy="702.27" r="1.95"/></g>
<g fill="#00afbb"><circle cx="1038.53" cy="600.53" r="1.95"/><circle cx="1068.4" cy="604.27" r="1.95"/><circle cx="1059.77" cy="612.9" r="1.95"/><circle cx="1067" cy="620.83" r="1.95"/><circle cx="1083.33" cy="620.37" r="1.95"/><circle cx="1089.63" cy="593.07" r="1.95"/><circle cx="1118.57" cy="589.57" r="1.95"/><circle cx="1136.53" cy="607.77" r="1.95"/><circle cx="1056.03" cy="633.67" r="1.95"/><circle cx="1029.67" cy="662.37" r="1.95"/><circle cx="1063.97" cy="661.2" r="1.95"/></g>
<rect x="973.2" y="539.4" width="215.13" height="181.77" fill="none" stroke="#b2b2b2" stroke-width=".8"/>
<text x="1008.43" y="733.37" font-size="12.2" text-anchor="middle" fill="#262626">-10</text>
<text x="1054.4" y="733.37" font-size="12.2" text-anchor="middle" fill="#262626">-5</text>
<text x="1100.13" y="733.37" font-size="12.2" text-anchor="middle" fill="#262626">0</text>
<text x="1145.87" y="733.37" font-size="12.2" text-anchor="middle" fill="#262626">5</text>
<text x="970.2" y="579.63" font-size="12.2" text-anchor="end" fill="#262626">5</text>
<text x="970.2" y="633.07" font-size="12.2" text-anchor="end" fill="#262626">0</text>
<text x="970.2" y="686.5" font-size="12.2" text-anchor="end" fill="#262626">-5</text>
<path d="M1008.43 721.17V723.37M1054.4 721.17V723.37M1100.13 721.17V723.37M1145.87 721.17V723.37M973.2 575.33H971M973.2 628.77H971M973.2 682.2H971" stroke="#777" stroke-width=".6" fill="none"/>
<text x="973.2" y="533.8" font-size="13.5" fill="#111">Saliva</text>
<text x="1080.53" y="746.2" font-size="12.7" text-anchor="middle" fill="#111">Dim1 (26.8%)</text>
<text x="956.1" y="629" font-size="12.7" text-anchor="middle" fill="#111" transform="rotate(-90 956.1 629)">Dim2 (11.5%)</text>
<rect x="1132.4" y="752.4" width="59.4" height="65.2" fill="#fff" stroke="#999" stroke-width=".8"/>
<text x="1142" y="767" font-size="10.4" font-weight="bold">Groups</text>
<rect x="1142.3" y="774.2" width="16.6" height="16.4" fill="#fee9e2" stroke="#fc4e07" stroke-width=".8"/>
<rect x="1142.3" y="791.9" width="16.6" height="16.4" fill="#e5f6f7" stroke="#00afbb" stroke-width=".8"/>
<circle cx="1150.4" cy="782.3" r="4.6" fill="#fc4e07"/><circle cx="1150.4" cy="799.8" r="4.6" fill="#00afbb"/>
<text x="1164.8" y="785.8" font-size="9.8" fill="#111">pN+</text>
<text x="1164.8" y="803.5" font-size="9.8" fill="#111">pN0</text>
</g>
<g id="pd">
<text x="-0.9" y="972.9" font-size="30" font-weight="bold">d</text>
<text x="58.3" y="967.6" font-size="15.85">Lymph node - Non-malignant (pN+ vs pN0)</text>
<path d="M61.7 1128.9H300.2" stroke="#c4c4c4" stroke-width=".8" stroke-dasharray="3 2 1 2" fill="none"/>
<g fill="#000"><circle cx="160.44" cy="1250.76" r="1.7"/><circle cx="150.52" cy="1250.88" r="1.7"/><circle cx="173.72" cy="1235.46" r="1.7"/><circle cx="187.57" cy="1267.88" r="1.7"/><circle cx="178.44" cy="1272.19" r="1.7"/><circle cx="195.1" cy="1232.76" r="1.7"/><circle cx="186.16" cy="1246.91" r="1.7"/><circle cx="179.23" cy="1270.24" r="1.7"/><circle cx="177.56" cy="1268.64" r="1.7"/><circle cx="172.04" cy="1239.5" r="1.7"/><circle cx="167.09" cy="1260.02" r="1.7"/><circle cx="191.45" cy="1227.18" r="1.7"/><circle cx="171.97" cy="1236.58" r="1.7"/><circle cx="183.26" cy="1269.5" r="1.7"/><circle cx="189.13" cy="1266.67" r="1.7"/><circle cx="188.29" cy="1254.3" r="1.7"/><circle cx="191.19" cy="1245.13" r="1.7"/><circle cx="194.09" cy="1261.91" r="1.7"/><circle cx="203.29" cy="1250.26" r="1.7"/><circle cx="189.13" cy="1247.63" r="1.7"/><circle cx="179.3" cy="1272.25" r="1.7"/><circle cx="187.87" cy="1222.78" r="1.7"/><circle cx="188.45" cy="1265.4" r="1.7"/><circle cx="172.22" cy="1270.57" r="1.7"/><circle cx="175" cy="1241.02" r="1.7"/><circle cx="177.25" cy="1270.87" r="1.7"/><circle cx="171.69" cy="1232.42" r="1.7"/><circle cx="174.26" cy="1259.81" r="1.7"/><circle cx="182.86" cy="1269.28" r="1.7"/><circle cx="185.16" cy="1264.08" r="1.7"/><circle cx="169.98" cy="1244.43" r="1.7"/><circle cx="193.76" cy="1271.48" r="1.7"/><circle cx="199.75" cy="1261.53" r="1.7"/><circle cx="175.11" cy="1247.61" r="1.7"/><circle cx="192.55" cy="1269.82" r="1.7"/><circle cx="194.98" cy="1261.7" r="1.7"/><circle cx="186.2" cy="1266.9" r="1.7"/><circle cx="170.15" cy="1256.64" r="1.7"/><circle cx="183.8" cy="1270.91" r="1.7"/><circle cx="171.13" cy="1240.12" r="1.7"/><circle cx="164.5" cy="1248.57" r="1.7"/><circle cx="171.93" cy="1249.62" r="1.7"/><circle cx="174.32" cy="1267.13" r="1.7"/><circle cx="173.37" cy="1253.64" r="1.7"/><circle cx="167.98" cy="1255.64" r="1.7"/><circle cx="186.14" cy="1259.75" r="1.7"/><circle cx="163.26" cy="1262.47" r="1.7"/><circle cx="171.92" cy="1246.87" r="1.7"/><circle cx="158.63" cy="1251.01" r="1.7"/><circle cx="204.29" cy="1242.83" r="1.7"/><circle cx="170.95" cy="1260.73" r="1.7"/><circle cx="197.37" cy="1253.61" r="1.7"/><circle cx="170.5" cy="1269.39" r="1.7"/><circle cx="171.38" cy="1254.9" r="1.7"/><circle cx="166.23" cy="1248.59" r="1.7"/><circle cx="178.69" cy="1271.95" r="1.7"/><circle cx="186.44" cy="1255.62" r="1.7"/><circle cx="176.95" cy="1256.48" r="1.7"/><circle cx="182.84" cy="1268.3" r="1.7"/><circle cx="184.14" cy="1266.3" r="1.7"/><circle cx="184.96" cy="1271.82" r="1.7"/><circle cx="192.84" cy="1257.28" r="1.7"/><circle cx="185.91" cy="1235.09" r="1.7"/><circle cx="186.17" cy="1267.18" r="1.7"/><circle cx="189.45" cy="1243.96" r="1.7"/><circle cx="184.66" cy="1257.21" r="1.7"/><circle cx="189.21" cy="1265.78" r="1.7"/><circle cx="170.65" cy="1245.13" r="1.7"/><circle cx="172.4" cy="1255.97" r="1.7"/><circle cx="191.97" cy="1257.92" r="1.7"/><circle cx="161.67" cy="1265.49" r="1.7"/><circle cx="186.53" cy="1270.58" r="1.7"/><circle cx="173.84" cy="1269.98" r="1.7"/><circle cx="174.08" cy="1264.87" r="1.7"/><circle cx="174.55" cy="1257.93" r="1.7"/><circle cx="173.17" cy="1261.44" r="1.7"/><circle cx="187.05" cy="1267.01" r="1.7"/><circle cx="189.79" cy="1256.87" r="1.7"/><circle cx="202" cy="1248.08" r="1.7"/><circle cx="186.35" cy="1260.25" r="1.7"/><circle cx="173.48" cy="1248.07" r="1.7"/><circle cx="190.23" cy="1257.43" r="1.7"/><circle cx="163.63" cy="1257.6" r="1.7"/><circle cx="188.03" cy="1249.57" r="1.7"/><circle cx="185.35" cy="1265.85" r="1.7"/><circle cx="187.05" cy="1262.43" r="1.7"/><circle cx="177.25" cy="1258.12" r="1.7"/><circle cx="204.79" cy="1262.68" r="1.7"/><circle cx="177.71" cy="1259.8" r="1.7"/><circle cx="171.04" cy="1263.48" r="1.7"/><circle cx="170.44" cy="1256.42" r="1.7"/><circle cx="174.52" cy="1264.62" r="1.7"/><circle cx="176.98" cy="1268.9" r="1.7"/><circle cx="170.76" cy="1271.31" r="1.7"/><circle cx="175.43" cy="1263.34" r="1.7"/><circle cx="173.36" cy="1233.8" r="1.7"/><circle cx="190.01" cy="1259.67" r="1.7"/><circle cx="187.21" cy="1269.74" r="1.7"/><circle cx="178.13" cy="1271.27" r="1.7"/><circle cx="165.43" cy="1247.33" r="1.7"/><circle cx="176.43" cy="1253.1" r="1.7"/><circle cx="172.63" cy="1268.45" r="1.7"/><circle cx="175.37" cy="1252.48" r="1.7"/><circle cx="187.15" cy="1232.44" r="1.7"/><circle cx="176.92" cy="1263.86" r="1.7"/><circle cx="178.91" cy="1271.69" r="1.7"/><circle cx="182.48" cy="1271.21" r="1.7"/><circle cx="155.11" cy="1250.73" r="1.7"/><circle cx="186.23" cy="1263.37" r="1.7"/><circle cx="187.76" cy="1271.48" r="1.7"/><circle cx="191.16" cy="1256.45" r="1.7"/><circle cx="168.41" cy="1259.47" r="1.7"/><circle cx="186.22" cy="1259.58" r="1.7"/><circle cx="176.64" cy="1260.77" r="1.7"/><circle cx="193.25" cy="1264.99" r="1.7"/><circle cx="195.18" cy="1252.44" r="1.7"/><circle cx="184.9" cy="1254.78" r="1.7"/><circle cx="186.31" cy="1258" r="1.7"/><circle cx="174.63" cy="1261.94" r="1.7"/><circle cx="173.69" cy="1271.92" r="1.7"/><circle cx="178.23" cy="1268.37" r="1.7"/><circle cx="158.91" cy="1254.92" r="1.7"/><circle cx="188.27" cy="1256.74" r="1.7"/><circle cx="189.73" cy="1265.92" r="1.7"/><circle cx="184.04" cy="1264.61" r="1.7"/><circle cx="159.79" cy="1255.72" r="1.7"/><circle cx="191.99" cy="1241.92" r="1.7"/><circle cx="164.39" cy="1258.79" r="1.7"/><circle cx="182.41" cy="1270.77" r="1.7"/><circle cx="192.15" cy="1271.76" r="1.7"/><circle cx="184.42" cy="1249.57" r="1.7"/><circle cx="193.51" cy="1237.16" r="1.7"/><circle cx="184.03" cy="1262.39" r="1.7"/><circle cx="184.97" cy="1269.63" r="1.7"/><circle cx="186.98" cy="1238.47" r="1.7"/><circle cx="183.79" cy="1267.21" r="1.7"/><circle cx="186.66" cy="1268.12" r="1.7"/><circle cx="188.82" cy="1231.11" r="1.7"/><circle cx="165.25" cy="1253.8" r="1.7"/><circle cx="187.32" cy="1225.94" r="1.7"/><circle cx="171.07" cy="1266.9" r="1.7"/><circle cx="177.89" cy="1269.55" r="1.7"/><circle cx="183.01" cy="1268.21" r="1.7"/><circle cx="187.17" cy="1266.43" r="1.7"/><circle cx="197.24" cy="1251.34" r="1.7"/><circle cx="189.61" cy="1268" r="1.7"/><circle cx="171.27" cy="1255.81" r="1.7"/><circle cx="179.25" cy="1272.3" r="1.7"/><circle cx="178.02" cy="1263.96" r="1.7"/><circle cx="183.52" cy="1265.52" r="1.7"/><circle cx="190.9" cy="1235.8" r="1.7"/><circle cx="178.11" cy="1271.52" r="1.7"/><circle cx="183.41" cy="1264.31" r="1.7"/><circle cx="185.95" cy="1264.04" r="1.7"/><circle cx="187.99" cy="1261.05" r="1.7"/><circle cx="184.07" cy="1270.99" r="1.7"/><circle cx="207.64" cy="1259.92" r="1.7"/><circle cx="173.15" cy="1241.35" r="1.7"/><circle cx="189.7" cy="1260" r="1.7"/><circle cx="170.8" cy="1264.85" r="1.7"/><circle cx="171.95" cy="1233.38" r="1.7"/><circle cx="187.37" cy="1244.42" r="1.7"/><circle cx="183.34" cy="1266.43" r="1.7"/><circle cx="172.26" cy="1245.05" r="1.7"/><circle cx="183.59" cy="1271.03" r="1.7"/><circle cx="190.32" cy="1263.46" r="1.7"/><circle cx="187.88" cy="1271.39" r="1.7"/><circle cx="184.44" cy="1268.84" r="1.7"/><circle cx="184.99" cy="1270.74" r="1.7"/><circle cx="192.6" cy="1250.1" r="1.7"/><circle cx="162.01" cy="1255.44" r="1.7"/><circle cx="163.64" cy="1263.07" r="1.7"/><circle cx="173.69" cy="1253.1" r="1.7"/><circle cx="177.39" cy="1264.7" r="1.7"/><circle cx="184.1" cy="1269.43" r="1.7"/><circle cx="178.36" cy="1267.03" r="1.7"/><circle cx="177.52" cy="1259.38" r="1.7"/><circle cx="184.65" cy="1270.17" r="1.7"/><circle cx="175.46" cy="1268.2" r="1.7"/><circle cx="182.82" cy="1265.99" r="1.7"/><circle cx="163.38" cy="1244.37" r="1.7"/><circle cx="185.08" cy="1260.32" r="1.7"/><circle cx="177.27" cy="1270.39" r="1.7"/><circle cx="173.2" cy="1262.52" r="1.7"/><circle cx="170.74" cy="1270.65" r="1.7"/><circle cx="190.01" cy="1258.65" r="1.7"/><circle cx="176.5" cy="1264.43" r="1.7"/><circle cx="187.37" cy="1268.81" r="1.7"/><circle cx="187.16" cy="1250.18" r="1.7"/><circle cx="166.5" cy="1242.1" r="1.7"/><circle cx="192" cy="1269.93" r="1.7"/><circle cx="182.98" cy="1271.79" r="1.7"/><circle cx="208.03" cy="1252.19" r="1.7"/><circle cx="188.53" cy="1246.92" r="1.7"/><circle cx="166.33" cy="1240.62" r="1.7"/><circle cx="178.44" cy="1264.85" r="1.7"/><circle cx="185.57" cy="1258.28" r="1.7"/><circle cx="182.89" cy="1266.3" r="1.7"/><circle cx="188" cy="1264.69" r="1.7"/><circle cx="167.53" cy="1231.25" r="1.7"/><circle cx="162.66" cy="1260.11" r="1.7"/><circle cx="195.06" cy="1258.01" r="1.7"/><circle cx="183.17" cy="1267.06" r="1.7"/><circle cx="189.41" cy="1265.37" r="1.7"/><circle cx="173.05" cy="1252.37" r="1.7"/><circle cx="170.4" cy="1267.27" r="1.7"/><circle cx="195.61" cy="1250.03" r="1.7"/><circle cx="165.82" cy="1236.06" r="1.7"/><circle cx="167" cy="1250.96" r="1.7"/><circle cx="204.33" cy="1260.78" r="1.7"/><circle cx="182.92" cy="1264.41" r="1.7"/><circle cx="188.48" cy="1269.27" r="1.7"/><circle cx="168.05" cy="1233.89" r="1.7"/><circle cx="188.25" cy="1270.56" r="1.7"/><circle cx="188.99" cy="1252.33" r="1.7"/><circle cx="176.8" cy="1268.58" r="1.7"/><circle cx="207.46" cy="1256.85" r="1.7"/><circle cx="199.12" cy="1256.39" r="1.7"/><circle cx="186.13" cy="1271.37" r="1.7"/><circle cx="163.61" cy="1238.71" r="1.7"/><circle cx="189.37" cy="1263.55" r="1.7"/><circle cx="176.45" cy="1266.65" r="1.7"/><circle cx="182.67" cy="1271.91" r="1.7"/><circle cx="175.48" cy="1257.62" r="1.7"/><circle cx="194.08" cy="1257.98" r="1.7"/><circle cx="176.09" cy="1251.54" r="1.7"/><circle cx="194.85" cy="1242.05" r="1.7"/><circle cx="171.53" cy="1268.24" r="1.7"/><circle cx="177.2" cy="1262.05" r="1.7"/><circle cx="182.89" cy="1269.68" r="1.7"/><circle cx="184.79" cy="1257.12" r="1.7"/><circle cx="159.31" cy="1251.11" r="1.7"/><circle cx="182.59" cy="1270.67" r="1.7"/><circle cx="187.66" cy="1264.9" r="1.7"/><circle cx="175.74" cy="1250.69" r="1.7"/><circle cx="187.86" cy="1259.87" r="1.7"/><circle cx="188.33" cy="1257.87" r="1.7"/><circle cx="172.5" cy="1271.2" r="1.7"/><circle cx="177.92" cy="1266.79" r="1.7"/><circle cx="192.95" cy="1265.41" r="1.7"/><circle cx="175.78" cy="1264.71" r="1.7"/><circle cx="200.34" cy="1253.33" r="1.7"/><circle cx="175.93" cy="1266.79" r="1.7"/><circle cx="177.48" cy="1260.7" r="1.7"/><circle cx="189.46" cy="1268.06" r="1.7"/><circle cx="183.26" cy="1267.35" r="1.7"/><circle cx="195.48" cy="1265.37" r="1.7"/><circle cx="188.96" cy="1249.2" r="1.7"/><circle cx="186.51" cy="1267.78" r="1.7"/><circle cx="183.77" cy="1260.78" r="1.7"/><circle cx="183.91" cy="1262.2" r="1.7"/><circle cx="190.95" cy="1222.93" r="1.7"/><circle cx="184.49" cy="1271.53" r="1.7"/><circle cx="170.6" cy="1263.29" r="1.7"/><circle cx="166.47" cy="1255.85" r="1.7"/><circle cx="188.61" cy="1272.01" r="1.7"/><circle cx="201.22" cy="1239.27" r="1.7"/><circle cx="173.51" cy="1236.87" r="1.7"/><circle cx="175.66" cy="1268.5" r="1.7"/><circle cx="186.11" cy="1262.26" r="1.7"/><circle cx="178.27" cy="1270.3" r="1.7"/><circle cx="184.52" cy="1271.17" r="1.7"/><circle cx="173.08" cy="1237.79" r="1.7"/><circle cx="177.77" cy="1270.06" r="1.7"/><circle cx="173.48" cy="1228.08" r="1.7"/><circle cx="185.63" cy="1263.45" r="1.7"/><circle cx="166.85" cy="1264.94" r="1.7"/><circle cx="178.74" cy="1270.89" r="1.7"/><circle cx="174.91" cy="1264.89" r="1.7"/><circle cx="186.45" cy="1258.96" r="1.7"/><circle cx="185.7" cy="1251.39" r="1.7"/><circle cx="184.16" cy="1252.85" r="1.7"/><circle cx="172.47" cy="1263.73" r="1.7"/><circle cx="175.6" cy="1247.24" r="1.7"/><circle cx="184.35" cy="1271.78" r="1.7"/><circle cx="183.67" cy="1272.05" r="1.7"/><circle cx="195.09" cy="1260.33" r="1.7"/><circle cx="177.49" cy="1266.66" r="1.7"/><circle cx="176.46" cy="1271.11" r="1.7"/><circle cx="173.29" cy="1260.38" r="1.7"/><circle cx="173.18" cy="1266.72" r="1.7"/><circle cx="176.88" cy="1270.03" r="1.7"/><circle cx="185.72" cy="1259.07" r="1.7"/><circle cx="182.61" cy="1271.41" r="1.7"/><circle cx="192.89" cy="1267.25" r="1.7"/><circle cx="167.26" cy="1267.54" r="1.7"/><circle cx="170.53" cy="1264.54" r="1.7"/><circle cx="196.36" cy="1267.52" r="1.7"/><circle cx="187.28" cy="1236.04" r="1.7"/><circle cx="188.42" cy="1271.55" r="1.7"/><circle cx="179.32" cy="1272.25" r="1.7"/><circle cx="159.43" cy="1261.5" r="1.7"/><circle cx="184.79" cy="1258.2" r="1.7"/><circle cx="167.74" cy="1257.3" r="1.7"/><circle cx="187.38" cy="1224.84" r="1.7"/><circle cx="184.99" cy="1253.99" r="1.7"/><circle cx="192.28" cy="1262.55" r="1.7"/><circle cx="176.06" cy="1252.01" r="1.7"/><circle cx="174.37" cy="1242.75" r="1.7"/><circle cx="176.57" cy="1267.62" r="1.7"/><circle cx="191.73" cy="1249.71" r="1.7"/><circle cx="176.7" cy="1262.39" r="1.7"/><circle cx="184.38" cy="1270.92" r="1.7"/><circle cx="191.23" cy="1263.55" r="1.7"/><circle cx="178.26" cy="1269.33" r="1.7"/><circle cx="190.22" cy="1253.83" r="1.7"/><circle cx="173.32" cy="1233.54" r="1.7"/><circle cx="190.17" cy="1261.52" r="1.7"/><circle cx="167.28" cy="1259.45" r="1.7"/><circle cx="202.52" cy="1247.89" r="1.7"/><circle cx="183.79" cy="1270.58" r="1.7"/><circle cx="188.18" cy="1237.18" r="1.7"/><circle cx="188.59" cy="1248.92" r="1.7"/><circle cx="203.39" cy="1256.42" r="1.7"/><circle cx="197.42" cy="1256.24" r="1.7"/><circle cx="186.24" cy="1264.01" r="1.7"/><circle cx="188.18" cy="1271.34" r="1.7"/><circle cx="186" cy="1239.84" r="1.7"/><circle cx="169.28" cy="1236.18" r="1.7"/><circle cx="185.1" cy="1263.8" r="1.7"/><circle cx="186.79" cy="1259.1" r="1.7"/><circle cx="177.23" cy="1262.37" r="1.7"/><circle cx="175.28" cy="1270.45" r="1.7"/><circle cx="185.75" cy="1263.21" r="1.7"/><circle cx="186.83" cy="1268.65" r="1.7"/><circle cx="170.53" cy="1264.72" r="1.7"/><circle cx="166.58" cy="1266.1" r="1.7"/><circle cx="182.62" cy="1270" r="1.7"/><circle cx="173.02" cy="1262.38" r="1.7"/><circle cx="170.85" cy="1258.77" r="1.7"/><circle cx="187.33" cy="1250.62" r="1.7"/><circle cx="193.79" cy="1249.69" r="1.7"/><circle cx="189.55" cy="1268.78" r="1.7"/><circle cx="182.9" cy="1269.47" r="1.7"/><circle cx="203.95" cy="1256.95" r="1.7"/><circle cx="185.2" cy="1253.23" r="1.7"/><circle cx="176.06" cy="1267.76" r="1.7"/><circle cx="185.51" cy="1252.02" r="1.7"/><circle cx="172.03" cy="1265.85" r="1.7"/><circle cx="159.4" cy="1261.68" r="1.7"/><circle cx="176.06" cy="1267.1" r="1.7"/><circle cx="176.32" cy="1270.12" r="1.7"/><circle cx="198.95" cy="1255.39" r="1.7"/><circle cx="195.28" cy="1241.76" r="1.7"/><circle cx="195.71" cy="1243.35" r="1.7"/><circle cx="191.46" cy="1251.37" r="1.7"/><circle cx="161.03" cy="1257.17" r="1.7"/><circle cx="183.2" cy="1261.5" r="1.7"/><circle cx="158.2" cy="1248.81" r="1.7"/><circle cx="189.51" cy="1260.16" r="1.7"/><circle cx="167.76" cy="1268.05" r="1.7"/><circle cx="170.24" cy="1264.63" r="1.7"/><circle cx="182.66" cy="1267.29" r="1.7"/><circle cx="164.1" cy="1258.48" r="1.7"/><circle cx="186.14" cy="1263.28" r="1.7"/><circle cx="171.43" cy="1264.95" r="1.7"/><circle cx="168.25" cy="1263.01" r="1.7"/><circle cx="194.61" cy="1267.58" r="1.7"/><circle cx="182.24" cy="1271.47" r="1.7"/><circle cx="176.16" cy="1270.6" r="1.7"/><circle cx="191.06" cy="1246.45" r="1.7"/><circle cx="189.15" cy="1272" r="1.7"/><circle cx="158.59" cy="1256.79" r="1.7"/><circle cx="157.09" cy="1252.29" r="1.7"/><circle cx="169.99" cy="1272.07" r="1.7"/><circle cx="178.64" cy="1268.81" r="1.7"/><circle cx="184.57" cy="1270.71" r="1.7"/><circle cx="182.5" cy="1268.43" r="1.7"/><circle cx="191.77" cy="1266.7" r="1.7"/><circle cx="174.46" cy="1253.73" r="1.7"/><circle cx="187.63" cy="1262.82" r="1.7"/><circle cx="195.83" cy="1262.68" r="1.7"/><circle cx="164.75" cy="1240.95" r="1.7"/><circle cx="169.35" cy="1263.8" r="1.7"/><circle cx="164.3" cy="1238.15" r="1.7"/><circle cx="184.75" cy="1269.02" r="1.7"/><circle cx="199.44" cy="1254.1" r="1.7"/><circle cx="200.69" cy="1260.22" r="1.7"/><circle cx="186.89" cy="1270.81" r="1.7"/><circle cx="184.17" cy="1269.92" r="1.7"/><circle cx="185.37" cy="1269.82" r="1.7"/><circle cx="185.5" cy="1272.3" r="1.7"/><circle cx="171.95" cy="1243.7" r="1.7"/><circle cx="178.56" cy="1271.07" r="1.7"/><circle cx="186.5" cy="1271.44" r="1.7"/><circle cx="163.61" cy="1262.02" r="1.7"/><circle cx="191.78" cy="1232.29" r="1.7"/><circle cx="185.54" cy="1269.41" r="1.7"/><circle cx="187.41" cy="1244.75" r="1.7"/><circle cx="185.56" cy="1245.3" r="1.7"/><circle cx="189.2" cy="1268.44" r="1.7"/><circle cx="172.76" cy="1270.82" r="1.7"/><circle cx="196.71" cy="1266.22" r="1.7"/><circle cx="170.71" cy="1266.48" r="1.7"/><circle cx="184.07" cy="1260.71" r="1.7"/><circle cx="167.97" cy="1232.82" r="1.7"/><circle cx="189.13" cy="1260.9" r="1.7"/><circle cx="184.13" cy="1269.78" r="1.7"/><circle cx="187.59" cy="1271.22" r="1.7"/><circle cx="183.29" cy="1266.92" r="1.7"/><circle cx="188.12" cy="1229.65" r="1.7"/><circle cx="184.51" cy="1265.7" r="1.7"/><circle cx="177.3" cy="1262.51" r="1.7"/><circle cx="170.23" cy="1266.05" r="1.7"/><circle cx="185.98" cy="1239.59" r="1.7"/><circle cx="184.72" cy="1267.03" r="1.7"/><circle cx="174.14" cy="1261.25" r="1.7"/><circle cx="193.04" cy="1242.53" r="1.7"/><circle cx="194.03" cy="1255.31" r="1.7"/><circle cx="184.18" cy="1263.52" r="1.7"/><circle cx="188.73" cy="1238.66" r="1.7"/><circle cx="192.72" cy="1257.63" r="1.7"/><circle cx="194.51" cy="1262.97" r="1.7"/><circle cx="189.48" cy="1270.56" r="1.7"/><circle cx="178.97" cy="1271.28" r="1.7"/><circle cx="171.53" cy="1267.05" r="1.7"/><circle cx="184.62" cy="1262.66" r="1.7"/><circle cx="191.5" cy="1253.5" r="1.7"/><circle cx="166.5" cy="1242.94" r="1.7"/><circle cx="175.42" cy="1269.28" r="1.7"/><circle cx="184.92" cy="1256.73" r="1.7"/><circle cx="166.6" cy="1265" r="1.7"/><circle cx="171.51" cy="1227.39" r="1.7"/><circle cx="197.56" cy="1250.41" r="1.7"/><circle cx="183.89" cy="1267.2" r="1.7"/><circle cx="188.92" cy="1229.47" r="1.7"/><circle cx="189.65" cy="1256.96" r="1.7"/><circle cx="175.29" cy="1262.72" r="1.7"/><circle cx="195.24" cy="1245.15" r="1.7"/><circle cx="191.15" cy="1261.35" r="1.7"/><circle cx="196.95" cy="1235.46" r="1.7"/><circle cx="189.77" cy="1265.79" r="1.7"/><circle cx="186.74" cy="1228.93" r="1.7"/><circle cx="187.59" cy="1267.3" r="1.7"/><circle cx="175.24" cy="1268.41" r="1.7"/><circle cx="183.4" cy="1270.32" r="1.7"/><circle cx="176.71" cy="1266.43" r="1.7"/><circle cx="163.6" cy="1231.97" r="1.7"/><circle cx="177.7" cy="1267.7" r="1.7"/><circle cx="183.1" cy="1271.32" r="1.7"/><circle cx="177.99" cy="1261.61" r="1.7"/><circle cx="202.94" cy="1242.13" r="1.7"/><circle cx="151.76" cy="1251.39" r="1.7"/><circle cx="189.64" cy="1264.68" r="1.7"/><circle cx="183.5" cy="1271.81" r="1.7"/><circle cx="182.72" cy="1270.35" r="1.7"/><circle cx="197.96" cy="1243.42" r="1.7"/><circle cx="175.09" cy="1266.19" r="1.7"/><circle cx="204.21" cy="1256.32" r="1.7"/><circle cx="177.66" cy="1266.81" r="1.7"/><circle cx="186.1" cy="1258.37" r="1.7"/><circle cx="184.48" cy="1266.65" r="1.7"/><circle cx="193.21" cy="1254.95" r="1.7"/><circle cx="186.6" cy="1251.44" r="1.7"/><circle cx="174.58" cy="1270.38" r="1.7"/><circle cx="169.85" cy="1251.33" r="1.7"/><circle cx="165.04" cy="1256.55" r="1.7"/><circle cx="186.07" cy="1269.1" r="1.7"/><circle cx="189.02" cy="1270.8" r="1.7"/><circle cx="189.71" cy="1262.1" r="1.7"/><circle cx="173.01" cy="1266.65" r="1.7"/><circle cx="173.26" cy="1255.38" r="1.7"/><circle cx="191.27" cy="1262.24" r="1.7"/><circle cx="176.06" cy="1270.11" r="1.7"/><circle cx="178.43" cy="1268.94" r="1.7"/><circle cx="176.44" cy="1272.06" r="1.7"/><circle cx="183.53" cy="1271.9" r="1.7"/><circle cx="202.56" cy="1264.23" r="1.7"/><circle cx="191.77" cy="1265.48" r="1.7"/><circle cx="178.34" cy="1272.06" r="1.7"/><circle cx="190.3" cy="1236.39" r="1.7"/><circle cx="189.09" cy="1261.95" r="1.7"/><circle cx="197.45" cy="1254.83" r="1.7"/><circle cx="197.33" cy="1260.08" r="1.7"/><circle cx="177.04" cy="1257.24" r="1.7"/><circle cx="188.14" cy="1255.06" r="1.7"/><circle cx="171.11" cy="1265.07" r="1.7"/><circle cx="164.21" cy="1252.65" r="1.7"/><circle cx="193.67" cy="1257.18" r="1.7"/><circle cx="186.98" cy="1249.97" r="1.7"/><circle cx="195.29" cy="1260.55" r="1.7"/><circle cx="195.06" cy="1248.41" r="1.7"/><circle cx="204.06" cy="1247.5" r="1.7"/><circle cx="191.78" cy="1261.75" r="1.7"/><circle cx="175.13" cy="1244.23" r="1.7"/><circle cx="167.85" cy="1265.91" r="1.7"/><circle cx="194.67" cy="1254.81" r="1.7"/><circle cx="192.92" cy="1261.53" r="1.7"/><circle cx="183.6" cy="1261.34" r="1.7"/><circle cx="188.05" cy="1230.19" r="1.7"/><circle cx="187.49" cy="1245.7" r="1.7"/><circle cx="155.44" cy="1258.97" r="1.7"/><circle cx="184.92" cy="1266.03" r="1.7"/><circle cx="182.61" cy="1272.4" r="1.7"/><circle cx="193.14" cy="1266.36" r="1.7"/><circle cx="176.41" cy="1265.41" r="1.7"/><circle cx="190.57" cy="1256.56" r="1.7"/><circle cx="186.22" cy="1260.55" r="1.7"/><circle cx="185.7" cy="1247.82" r="1.7"/><circle cx="192.33" cy="1249.19" r="1.7"/><circle cx="190.05" cy="1236.36" r="1.7"/><circle cx="159.6" cy="1251.04" r="1.7"/><circle cx="187.1" cy="1266.54" r="1.7"/><circle cx="173.34" cy="1234.27" r="1.7"/><circle cx="174.29" cy="1259.49" r="1.7"/><circle cx="189.24" cy="1263.51" r="1.7"/><circle cx="193.3" cy="1266.52" r="1.7"/><circle cx="183.9" cy="1263.62" r="1.7"/><circle cx="167.46" cy="1260.55" r="1.7"/><circle cx="173.69" cy="1260.63" r="1.7"/><circle cx="182.7" cy="1271.92" r="1.7"/><circle cx="186.94" cy="1272.24" r="1.7"/><circle cx="184.87" cy="1268.15" r="1.7"/><circle cx="194.03" cy="1268.64" r="1.7"/><circle cx="182.62" cy="1271.26" r="1.7"/><circle cx="174.27" cy="1258.61" r="1.7"/><circle cx="169.31" cy="1271.65" r="1.7"/><circle cx="176.65" cy="1254.96" r="1.7"/><circle cx="193.56" cy="1243.43" r="1.7"/><circle cx="182.92" cy="1268.13" r="1.7"/><circle cx="185.81" cy="1269.2" r="1.7"/><circle cx="169.62" cy="1235.47" r="1.7"/><circle cx="158.61" cy="1261.87" r="1.7"/><circle cx="196.24" cy="1231.15" r="1.7"/><circle cx="175.98" cy="1251.66" r="1.7"/><circle cx="209.4" cy="1255.36" r="1.7"/><circle cx="177.5" cy="1271.76" r="1.7"/><circle cx="183.83" cy="1269.4" r="1.7"/><circle cx="185.27" cy="1264.95" r="1.7"/><circle cx="190.27" cy="1225.39" r="1.7"/><circle cx="173.63" cy="1229.29" r="1.7"/><circle cx="178.22" cy="1270.8" r="1.7"/><circle cx="166.87" cy="1250.06" r="1.7"/><circle cx="189.95" cy="1251.94" r="1.7"/><circle cx="183.21" cy="1268.44" r="1.7"/><circle cx="197.38" cy="1223.89" r="1.7"/><circle cx="185.67" cy="1263.9" r="1.7"/><circle cx="176.39" cy="1261.57" r="1.7"/><circle cx="173.66" cy="1230.21" r="1.7"/><circle cx="188.76" cy="1268.41" r="1.7"/><circle cx="185.16" cy="1266.75" r="1.7"/><circle cx="171.9" cy="1261.22" r="1.7"/><circle cx="161.93" cy="1258.18" r="1.7"/><circle cx="175.89" cy="1268.96" r="1.7"/><circle cx="187.23" cy="1272.06" r="1.7"/><circle cx="182.73" cy="1267.7" r="1.7"/><circle cx="188.6" cy="1254.6" r="1.7"/><circle cx="209.14" cy="1254.4" r="1.7"/><circle cx="193.79" cy="1258.51" r="1.7"/><circle cx="193.35" cy="1237.28" r="1.7"/><circle cx="169.59" cy="1270.02" r="1.7"/><circle cx="197.55" cy="1257.02" r="1.7"/><circle cx="185.23" cy="1267.48" r="1.7"/><circle cx="170.44" cy="1255.28" r="1.7"/><circle cx="174.01" cy="1255.36" r="1.7"/><circle cx="186.74" cy="1270.55" r="1.7"/><circle cx="188.35" cy="1263.65" r="1.7"/><circle cx="193.06" cy="1249.59" r="1.7"/><circle cx="189.59" cy="1222.69" r="1.7"/><circle cx="169.3" cy="1259.73" r="1.7"/><circle cx="178.54" cy="1270.45" r="1.7"/><circle cx="177.57" cy="1265.53" r="1.7"/><circle cx="161.9" cy="1250.38" r="1.7"/><circle cx="189.89" cy="1270.14" r="1.7"/><circle cx="196.55" cy="1254.77" r="1.7"/><circle cx="185.88" cy="1272.36" r="1.7"/><circle cx="190.1" cy="1251.41" r="1.7"/><circle cx="176.93" cy="1266.65" r="1.7"/><circle cx="208.3" cy="1257.46" r="1.7"/><circle cx="168.43" cy="1261.33" r="1.7"/><circle cx="175.85" cy="1264.03" r="1.7"/><circle cx="178.18" cy="1264.58" r="1.7"/><circle cx="191.69" cy="1265.29" r="1.7"/><circle cx="162.75" cy="1261.63" r="1.7"/><circle cx="193.3" cy="1265.49" r="1.7"/><circle cx="159.64" cy="1263.53" r="1.7"/><circle cx="201.89" cy="1260.12" r="1.7"/><circle cx="169.37" cy="1268.97" r="1.7"/><circle cx="188.31" cy="1228.67" r="1.7"/><circle cx="183.95" cy="1264.51" r="1.7"/><circle cx="170.29" cy="1271.23" r="1.7"/><circle cx="188.67" cy="1249.94" r="1.7"/><circle cx="201.09" cy="1234.81" r="1.7"/><circle cx="170.2" cy="1267.46" r="1.7"/><circle cx="175.1" cy="1258.04" r="1.7"/><circle cx="177.94" cy="1269.81" r="1.7"/><circle cx="179.42" cy="1271.62" r="1.7"/><circle cx="187" cy="1267.64" r="1.7"/><circle cx="194.38" cy="1259.29" r="1.7"/><circle cx="190.97" cy="1258.47" r="1.7"/><circle cx="167.62" cy="1258.68" r="1.7"/><circle cx="174.86" cy="1244.74" r="1.7"/><circle cx="201.8" cy="1240.32" r="1.7"/><circle cx="193.09" cy="1236.52" r="1.7"/><circle cx="172.02" cy="1253.1" r="1.7"/><circle cx="196.91" cy="1249.28" r="1.7"/><circle cx="185.61" cy="1267.35" r="1.7"/><circle cx="176.12" cy="1262.46" r="1.7"/><circle cx="190.19" cy="1268.9" r="1.7"/><circle cx="193.38" cy="1262.13" r="1.7"/><circle cx="185.86" cy="1257.98" r="1.7"/><circle cx="188.72" cy="1259.8" r="1.7"/><circle cx="165.74" cy="1269.93" r="1.7"/><circle cx="183.6" cy="1265.69" r="1.7"/><circle cx="175.82" cy="1269.15" r="1.7"/><circle cx="185.17" cy="1267.81" r="1.7"/><circle cx="191.76" cy="1254.2" r="1.7"/><circle cx="183.55" cy="1267.7" r="1.7"/><circle cx="183.69" cy="1263.17" r="1.7"/><circle cx="192.18" cy="1267.69" r="1.7"/><circle cx="162.51" cy="1268.27" r="1.7"/><circle cx="190.86" cy="1237.89" r="1.7"/><circle cx="191.83" cy="1267.62" r="1.7"/><circle cx="196.01" cy="1238.01" r="1.7"/><circle cx="183.53" cy="1271.89" r="1.7"/><circle cx="189.64" cy="1265.01" r="1.7"/><circle cx="202.84" cy="1262.33" r="1.7"/><circle cx="164.83" cy="1253.75" r="1.7"/><circle cx="172.2" cy="1262.55" r="1.7"/><circle cx="169.01" cy="1259.58" r="1.7"/><circle cx="191" cy="1254.96" r="1.7"/><circle cx="184.19" cy="1271.19" r="1.7"/><circle cx="174.9" cy="1259.34" r="1.7"/><circle cx="183.42" cy="1267.8" r="1.7"/><circle cx="186.5" cy="1250.57" r="1.7"/><circle cx="185.12" cy="1256.94" r="1.7"/><circle cx="154.76" cy="1255.62" r="1.7"/><circle cx="173.53" cy="1251.44" r="1.7"/><circle cx="186.79" cy="1264.77" r="1.7"/><circle cx="164.53" cy="1263.25" r="1.7"/><circle cx="178.18" cy="1271.02" r="1.7"/><circle cx="173.58" cy="1247.51" r="1.7"/><circle cx="187.69" cy="1264.84" r="1.7"/><circle cx="191.39" cy="1231.02" r="1.7"/><circle cx="188.07" cy="1265.66" r="1.7"/><circle cx="183.43" cy="1264.45" r="1.7"/><circle cx="154.32" cy="1240.14" r="1.7"/><circle cx="171.95" cy="1264.64" r="1.7"/><circle cx="186.85" cy="1269.3" r="1.7"/><circle cx="185.9" cy="1268.89" r="1.7"/><circle cx="173.07" cy="1256.01" r="1.7"/><circle cx="192.2" cy="1256.5" r="1.7"/><circle cx="187.75" cy="1262.22" r="1.7"/><circle cx="170.94" cy="1238.74" r="1.7"/><circle cx="194.17" cy="1259.21" r="1.7"/><circle cx="198.95" cy="1267.87" r="1.7"/><circle cx="187.13" cy="1254.14" r="1.7"/><circle cx="185.44" cy="1262.81" r="1.7"/><circle cx="187.37" cy="1221.99" r="1.7"/><circle cx="189.02" cy="1250.94" r="1.7"/><circle cx="189.35" cy="1252.79" r="1.7"/><circle cx="154.73" cy="1257.89" r="1.7"/><circle cx="176.12" cy="1270.14" r="1.7"/><circle cx="178.67" cy="1269.75" r="1.7"/><circle cx="168.22" cy="1231.29" r="1.7"/><circle cx="170.83" cy="1252.32" r="1.7"/><circle cx="170.31" cy="1230.71" r="1.7"/><circle cx="172.99" cy="1228.65" r="1.7"/><circle cx="189.86" cy="1254.03" r="1.7"/><circle cx="191.55" cy="1268.17" r="1.7"/><circle cx="170.97" cy="1251.72" r="1.7"/><circle cx="187.98" cy="1264.36" r="1.7"/><circle cx="173.27" cy="1270.08" r="1.7"/><circle cx="162.16" cy="1265.64" r="1.7"/><circle cx="174.66" cy="1271.23" r="1.7"/><circle cx="190.13" cy="1262.36" r="1.7"/><circle cx="154.24" cy="1256.48" r="1.7"/><circle cx="189.57" cy="1246.93" r="1.7"/><circle cx="193.15" cy="1246.43" r="1.7"/><circle cx="191.06" cy="1236.62" r="1.7"/><circle cx="190.93" cy="1259.86" r="1.7"/><circle cx="171.27" cy="1267.47" r="1.7"/><circle cx="169.9" cy="1265.05" r="1.7"/><circle cx="189.45" cy="1248.12" r="1.7"/><circle cx="177.47" cy="1266.76" r="1.7"/><circle cx="193.25" cy="1270.25" r="1.7"/><circle cx="176.08" cy="1263.8" r="1.7"/><circle cx="172.86" cy="1241.96" r="1.7"/><circle cx="184.49" cy="1261.41" r="1.7"/><circle cx="183.94" cy="1264.31" r="1.7"/><circle cx="187.26" cy="1257.57" r="1.7"/><circle cx="169.27" cy="1267.26" r="1.7"/><circle cx="190.43" cy="1239.81" r="1.7"/><circle cx="164.25" cy="1250.19" r="1.7"/><circle cx="177.41" cy="1265.7" r="1.7"/><circle cx="187.41" cy="1221.52" r="1.7"/><circle cx="186.79" cy="1266.48" r="1.7"/><circle cx="178.5" cy="1269.39" r="1.7"/><circle cx="192.39" cy="1265.77" r="1.7"/><circle cx="191.49" cy="1255.81" r="1.7"/><circle cx="183.28" cy="1264.04" r="1.7"/><circle cx="175.66" cy="1251.32" r="1.7"/><circle cx="191.62" cy="1247.97" r="1.7"/><circle cx="174.96" cy="1250.14" r="1.7"/><circle cx="178.16" cy="1268.81" r="1.7"/><circle cx="172.44" cy="1245.42" r="1.7"/><circle cx="187.82" cy="1251.23" r="1.7"/><circle cx="195.33" cy="1226.52" r="1.7"/><circle cx="177.51" cy="1267.9" r="1.7"/><circle cx="197.07" cy="1269.4" r="1.7"/><circle cx="169.23" cy="1242.92" r="1.7"/><circle cx="187.62" cy="1222.54" r="1.7"/><circle cx="193.49" cy="1241.39" r="1.7"/><circle cx="163.17" cy="1257.35" r="1.7"/><circle cx="184.89" cy="1268.45" r="1.7"/><circle cx="177.63" cy="1260.45" r="1.7"/><circle cx="172.56" cy="1261.57" r="1.7"/><circle cx="170.55" cy="1257.15" r="1.7"/><circle cx="162.26" cy="1237.59" r="1.7"/><circle cx="174.55" cy="1252.13" r="1.7"/><circle cx="184.1" cy="1267.44" r="1.7"/><circle cx="168.41" cy="1268.2" r="1.7"/><circle cx="178.22" cy="1264.11" r="1.7"/><circle cx="197.04" cy="1255.83" r="1.7"/><circle cx="185.38" cy="1257.78" r="1.7"/><circle cx="161.11" cy="1248.08" r="1.7"/><circle cx="177.69" cy="1258.78" r="1.7"/><circle cx="183.55" cy="1264.06" r="1.7"/><circle cx="190.82" cy="1221.99" r="1.7"/><circle cx="155.66" cy="1253.71" r="1.7"/><circle cx="174.1" cy="1263.5" r="1.7"/><circle cx="194.79" cy="1245.15" r="1.7"/><circle cx="187.39" cy="1253.45" r="1.7"/><circle cx="169.22" cy="1259.32" r="1.7"/><circle cx="169.93" cy="1266.85" r="1.7"/><circle cx="187.44" cy="1259.76" r="1.7"/><circle cx="183.14" cy="1266.94" r="1.7"/><circle cx="183.73" cy="1268.07" r="1.7"/><circle cx="182.41" cy="1270.27" r="1.7"/><circle cx="168.95" cy="1271.49" r="1.7"/><circle cx="185.21" cy="1270.35" r="1.7"/><circle cx="185.83" cy="1271.49" r="1.7"/><circle cx="191.3" cy="1266.73" r="1.7"/><circle cx="176.11" cy="1269.27" r="1.7"/><circle cx="177.82" cy="1266.35" r="1.7"/><circle cx="189.23" cy="1240.33" r="1.7"/><circle cx="169.54" cy="1228.03" r="1.7"/><circle cx="186.68" cy="1261.93" r="1.7"/><circle cx="162.65" cy="1261.05" r="1.7"/><circle cx="188.96" cy="1268.97" r="1.7"/><circle cx="185.45" cy="1268.59" r="1.7"/><circle cx="184.14" cy="1271.88" r="1.7"/><circle cx="173.77" cy="1261.01" r="1.7"/><circle cx="191.36" cy="1253.25" r="1.7"/><circle cx="186.71" cy="1258.52" r="1.7"/><circle cx="167.99" cy="1263.59" r="1.7"/><circle cx="186.07" cy="1256.14" r="1.7"/><circle cx="183.32" cy="1261.57" r="1.7"/><circle cx="195.81" cy="1262.54" r="1.7"/><circle cx="160.16" cy="1242.72" r="1.7"/><circle cx="178.1" cy="1268.92" r="1.7"/><circle cx="186.72" cy="1247.26" r="1.7"/><circle cx="195.22" cy="1270.02" r="1.7"/><circle cx="188.2" cy="1268.11" r="1.7"/><circle cx="175.51" cy="1271.77" r="1.7"/><circle cx="190.41" cy="1259.49" r="1.7"/><circle cx="156.9" cy="1244.77" r="1.7"/><circle cx="185.05" cy="1271.72" r="1.7"/><circle cx="190.69" cy="1256.23" r="1.7"/><circle cx="163.18" cy="1243.78" r="1.7"/><circle cx="169.14" cy="1265.93" r="1.7"/><circle cx="166.52" cy="1268.45" r="1.7"/><circle cx="185.39" cy="1260.3" r="1.7"/><circle cx="166.09" cy="1262.14" r="1.7"/><circle cx="169.76" cy="1260.7" r="1.7"/><circle cx="192.67" cy="1268.06" r="1.7"/><circle cx="179.3" cy="1271.83" r="1.7"/><circle cx="185.03" cy="1271.07" r="1.7"/><circle cx="192.02" cy="1268" r="1.7"/><circle cx="172.86" cy="1231.7" r="1.7"/><circle cx="199.04" cy="1257.07" r="1.7"/><circle cx="185.25" cy="1269.11" r="1.7"/><circle cx="158.72" cy="1242.66" r="1.7"/><circle cx="199.73" cy="1261.13" r="1.7"/><circle cx="176.73" cy="1264.25" r="1.7"/><circle cx="176.67" cy="1266.87" r="1.7"/><circle cx="194.93" cy="1253.85" r="1.7"/><circle cx="170.98" cy="1258.17" r="1.7"/><circle cx="174.42" cy="1270.02" r="1.7"/><circle cx="177.45" cy="1265.93" r="1.7"/><circle cx="187.99" cy="1271.96" r="1.7"/><circle cx="202.25" cy="1244.95" r="1.7"/><circle cx="184.83" cy="1266.55" r="1.7"/><circle cx="183.43" cy="1271.93" r="1.7"/><circle cx="189.66" cy="1262.77" r="1.7"/><circle cx="178.55" cy="1270.57" r="1.7"/><circle cx="173.51" cy="1266.98" r="1.7"/><circle cx="177" cy="1270.82" r="1.7"/><circle cx="174.52" cy="1259.06" r="1.7"/><circle cx="184.62" cy="1271.38" r="1.7"/><circle cx="173.46" cy="1264.57" r="1.7"/><circle cx="189.72" cy="1252.47" r="1.7"/><circle cx="188.03" cy="1248.69" r="1.7"/><circle cx="198.11" cy="1255.98" r="1.7"/><circle cx="199.04" cy="1265.64" r="1.7"/><circle cx="184.08" cy="1264.05" r="1.7"/><circle cx="208.27" cy="1258.27" r="1.7"/><circle cx="184.19" cy="1271.26" r="1.7"/><circle cx="182.57" cy="1271.46" r="1.7"/><circle cx="173.61" cy="1236.34" r="1.7"/><circle cx="184.45" cy="1266.66" r="1.7"/><circle cx="184.9" cy="1271.89" r="1.7"/><circle cx="176.12" cy="1271.22" r="1.7"/><circle cx="207.84" cy="1247.63" r="1.7"/><circle cx="176.46" cy="1260.21" r="1.7"/><circle cx="172.22" cy="1271.24" r="1.7"/><circle cx="188.39" cy="1236.8" r="1.7"/><circle cx="175.58" cy="1261.47" r="1.7"/><circle cx="184.44" cy="1263.4" r="1.7"/><circle cx="194.7" cy="1260.26" r="1.7"/><circle cx="185.93" cy="1257.16" r="1.7"/><circle cx="192.3" cy="1268.02" r="1.7"/><circle cx="183.13" cy="1266.91" r="1.7"/><circle cx="185.82" cy="1259.95" r="1.7"/><circle cx="188.67" cy="1236.64" r="1.7"/><circle cx="197.92" cy="1264.26" r="1.7"/><circle cx="168.86" cy="1235.18" r="1.7"/><circle cx="183.76" cy="1261.28" r="1.7"/><circle cx="159.81" cy="1255.76" r="1.7"/><circle cx="185.16" cy="1259.2" r="1.7"/><circle cx="176.2" cy="1260.93" r="1.7"/><circle cx="174.97" cy="1256.93" r="1.7"/><circle cx="167.2" cy="1256.68" r="1.7"/><circle cx="176.39" cy="1266.33" r="1.7"/><circle cx="171.86" cy="1268.77" r="1.7"/><circle cx="183.23" cy="1268.83" r="1.7"/><circle cx="207.85" cy="1258.69" r="1.7"/><circle cx="167.69" cy="1242.26" r="1.7"/><circle cx="175.31" cy="1265.99" r="1.7"/><circle cx="172.5" cy="1267.62" r="1.7"/><circle cx="175.53" cy="1271.54" r="1.7"/><circle cx="170.42" cy="1237.28" r="1.7"/><circle cx="168.68" cy="1271.78" r="1.7"/><circle cx="170.21" cy="1245.82" r="1.7"/><circle cx="173.38" cy="1244.5" r="1.7"/><circle cx="205.55" cy="1250.05" r="1.7"/><circle cx="190.17" cy="1259.75" r="1.7"/><circle cx="188.23" cy="1242.81" r="1.7"/><circle cx="177.08" cy="1263.91" r="1.7"/><circle cx="178.6" cy="1269.85" r="1.7"/><circle cx="182.98" cy="1265.5" r="1.7"/><circle cx="187.9" cy="1227.17" r="1.7"/><circle cx="178.93" cy="1268.57" r="1.7"/><circle cx="182.85" cy="1267.81" r="1.7"/><circle cx="177.29" cy="1266.33" r="1.7"/><circle cx="188.46" cy="1252.55" r="1.7"/><circle cx="174.3" cy="1269.06" r="1.7"/><circle cx="201.09" cy="1231.49" r="1.7"/><circle cx="173.65" cy="1262.14" r="1.7"/><circle cx="165.39" cy="1258.59" r="1.7"/><circle cx="193.39" cy="1264.24" r="1.7"/><circle cx="184.81" cy="1265.71" r="1.7"/><circle cx="188.77" cy="1240.59" r="1.7"/><circle cx="167.48" cy="1271.6" r="1.7"/><circle cx="185.45" cy="1250.63" r="1.7"/><circle cx="172.66" cy="1245.71" r="1.7"/><circle cx="194.52" cy="1264.68" r="1.7"/><circle cx="177.53" cy="1271.34" r="1.7"/><circle cx="178.18" cy="1266.96" r="1.7"/><circle cx="170.19" cy="1245.01" r="1.7"/><circle cx="158.15" cy="1250.18" r="1.7"/><circle cx="210.67" cy="1251.47" r="1.7"/><circle cx="173.27" cy="1260.6" r="1.7"/><circle cx="157.44" cy="1261.12" r="1.7"/><circle cx="176.73" cy="1261.18" r="1.7"/><circle cx="177.04" cy="1270.09" r="1.7"/><circle cx="168.58" cy="1261.27" r="1.7"/><circle cx="188.42" cy="1223.14" r="1.7"/><circle cx="201.87" cy="1247.02" r="1.7"/><circle cx="193.12" cy="1270.28" r="1.7"/><circle cx="165.09" cy="1263.7" r="1.7"/><circle cx="184.64" cy="1270.01" r="1.7"/><circle cx="170.02" cy="1256" r="1.7"/><circle cx="193.14" cy="1267.19" r="1.7"/><circle cx="171.98" cy="1253.79" r="1.7"/><circle cx="168" cy="1254.78" r="1.7"/><circle cx="170.35" cy="1259.54" r="1.7"/><circle cx="185.66" cy="1248.39" r="1.7"/><circle cx="184.2" cy="1256.54" r="1.7"/><circle cx="175.37" cy="1268.98" r="1.7"/><circle cx="103.2" cy="1216.4" r="1.7"/><circle cx="110.13" cy="1197.47" r="1.7"/><circle cx="123.2" cy="1198.27" r="1.7"/><circle cx="133.6" cy="1190.8" r="1.7"/><circle cx="141.33" cy="1200.4" r="1.7"/><circle cx="146.4" cy="1199.33" r="1.7"/><circle cx="149.07" cy="1199.33" r="1.7"/><circle cx="153.6" cy="1177.47" r="1.7"/><circle cx="160.27" cy="1201.47" r="1.7"/><circle cx="161.87" cy="1201.47" r="1.7"/><circle cx="168.53" cy="1198.8" r="1.7"/><circle cx="133.07" cy="1211.87" r="1.7"/><circle cx="149.6" cy="1213.73" r="1.7"/><circle cx="156" cy="1211.33" r="1.7"/><circle cx="130.93" cy="1222.27" r="1.7"/><circle cx="137.33" cy="1224.93" r="1.7"/><circle cx="128.8" cy="1229.2" r="1.7"/><circle cx="124.27" cy="1234.27" r="1.7"/><circle cx="135.73" cy="1240.67" r="1.7"/><circle cx="113.33" cy="1247.33" r="1.7"/><circle cx="144.27" cy="1247.33" r="1.7"/><circle cx="171.2" cy="1211.07" r="1.7"/><circle cx="173.87" cy="1211.07" r="1.7"/><circle cx="170.67" cy="1217.73" r="1.7"/><circle cx="164.8" cy="1224.67" r="1.7"/><circle cx="166.4" cy="1224.67" r="1.7"/><circle cx="151.2" cy="1230.8" r="1.7"/><circle cx="153.87" cy="1230" r="1.7"/><circle cx="157.07" cy="1229.47" r="1.7"/><circle cx="168" cy="1229.2" r="1.7"/><circle cx="171.47" cy="1224.67" r="1.7"/><circle cx="202.13" cy="1176.67" r="1.7"/><circle cx="190.67" cy="1194" r="1.7"/><circle cx="195.47" cy="1194" r="1.7"/><circle cx="198.67" cy="1192.93" r="1.7"/><circle cx="200.27" cy="1192.4" r="1.7"/><circle cx="205.6" cy="1192.4" r="1.7"/><circle cx="206.93" cy="1194.8" r="1.7"/><circle cx="207.73" cy="1196.4" r="1.7"/><circle cx="193.87" cy="1196.67" r="1.7"/><circle cx="194.93" cy="1198" r="1.7"/><circle cx="193.33" cy="1199.87" r="1.7"/><circle cx="190.4" cy="1205.2" r="1.7"/><circle cx="187.2" cy="1210.8" r="1.7"/><circle cx="190.67" cy="1210.8" r="1.7"/><circle cx="192.53" cy="1211.33" r="1.7"/><circle cx="194.67" cy="1211.87" r="1.7"/><circle cx="198.67" cy="1211.33" r="1.7"/><circle cx="200.27" cy="1211.6" r="1.7"/><circle cx="205.33" cy="1217.2" r="1.7"/><circle cx="206.67" cy="1216.67" r="1.7"/><circle cx="213.33" cy="1210.8" r="1.7"/><circle cx="216.53" cy="1226" r="1.7"/><circle cx="214.67" cy="1235.33" r="1.7"/><circle cx="238.67" cy="1230.53" r="1.7"/><circle cx="224" cy="1243.33" r="1.7"/><circle cx="238.13" cy="1248.67" r="1.7"/><circle cx="245.33" cy="1244.67" r="1.7"/><circle cx="240.8" cy="1253.73" r="1.7"/><circle cx="254.13" cy="1255.07" r="1.7"/><circle cx="229.33" cy="1263.33" r="1.7"/><circle cx="232.53" cy="1266.27" r="1.7"/><circle cx="222.67" cy="1269.47" r="1.7"/><circle cx="218.67" cy="1262.8" r="1.7"/><circle cx="212" cy="1263.33" r="1.7"/><circle cx="133.6" cy="1270.8" r="1.7"/><circle cx="147.2" cy="1270.53" r="1.7"/><circle cx="144.27" cy="1264.13" r="1.7"/><circle cx="151.2" cy="1262.8" r="1.7"/><circle cx="152.8" cy="1262.8" r="1.7"/><circle cx="157.07" cy="1263.33" r="1.7"/><circle cx="162.13" cy="1271.33" r="1.7"/><circle cx="147.47" cy="1244.67" r="1.7"/><circle cx="149.33" cy="1248.67" r="1.7"/><circle cx="153.33" cy="1243.87" r="1.7"/><circle cx="210.67" cy="1242" r="1.7"/><circle cx="213.33" cy="1246" r="1.7"/><circle cx="216" cy="1250" r="1.7"/><circle cx="208" cy="1256.67" r="1.7"/><circle cx="210.67" cy="1255.33" r="1.7"/><circle cx="166.13" cy="1146.47" r="1.7"/><circle cx="190.93" cy="1147" r="1.7"/><circle cx="192.53" cy="1164.87" r="1.7"/><circle cx="195.47" cy="1166.47" r="1.7"/><circle cx="201.33" cy="1168.6" r="1.7"/><circle cx="207.47" cy="1163.8" r="1.7"/><circle cx="232.53" cy="1165.67" r="1.7"/><circle cx="197.87" cy="1132.07" r="1.7"/></g>
<g fill="#ffa31a"><circle cx="146.93" cy="997.93" r="1.7"/><circle cx="147.2" cy="1030.73" r="1.7"/><circle cx="141.07" cy="1039.27" r="1.7"/><circle cx="149.87" cy="1100.07" r="1.7"/><circle cx="159.47" cy="1119.27" r="1.7"/><circle cx="156.27" cy="1128.6" r="1.7"/></g>
<g fill="#0a32ff"><circle cx="194.93" cy="1000.07" r="1.7"/><circle cx="191.47" cy="1124.6" r="1.7"/><circle cx="193.6" cy="1123.53" r="1.7"/><circle cx="198.13" cy="1124.87" r="1.7"/><circle cx="196" cy="1107.27" r="1.7"/></g>
<text x="143.2" y="998.47" font-size="10.3" text-anchor="end" fill="#111">ERH</text>
<text x="200" y="999.8" font-size="10.3" fill="#111">ALDOA</text>
<text x="142.67" y="1028.6" font-size="10.3" text-anchor="end" fill="#111">SRSF1</text>
<text x="136.8" y="1047" font-size="10.3" text-anchor="end" fill="#111">SRSF5</text>
<text x="145.33" y="1100.33" font-size="10.3" text-anchor="end" fill="#111">SRSF3</text>
<text x="154.67" y="1119.53" font-size="10.3" text-anchor="end" fill="#111">TRA2A</text>
<text x="154.13" y="1139" font-size="10.3" text-anchor="end" fill="#111">SRSF2</text>
<text x="165.33" y="1120.87" font-size="10.3" fill="#111">LDHA</text>
<text x="197.87" y="1103.53" font-size="10.3" fill="#111">RBM12B</text>
<text x="195.47" y="1118.2" font-size="10.3" fill="#111">PLIN3</text>
<text x="203.2" y="1132.33" font-size="10.3" fill="#111">VBP1</text>
<rect x="58.7" y="987" width="244.5" height="295.5" fill="none" stroke="#555" stroke-width=".9"/>
<text x="67.72" y="1303" font-size="8.6" text-anchor="middle" fill="#222">-4</text>
<text x="124.26" y="1303" font-size="8.6" text-anchor="middle" fill="#222">-2</text>
<text x="180.8" y="1303" font-size="8.6" text-anchor="middle" fill="#222">0</text>
<text x="237.34" y="1303" font-size="8.6" text-anchor="middle" fill="#222">2</text>
<text x="293.88" y="1303" font-size="8.6" text-anchor="middle" fill="#222">4</text>
<text x="46.3" y="1272.4" font-size="8.6" text-anchor="middle" fill="#222" transform="rotate(-90 46.3 1272.4)">0.0</text>
<text x="46.3" y="1217.3" font-size="8.6" text-anchor="middle" fill="#222" transform="rotate(-90 46.3 1217.3)">0.5</text>
<text x="46.3" y="1162.2" font-size="8.6" text-anchor="middle" fill="#222" transform="rotate(-90 46.3 1162.2)">1.0</text>
<text x="46.3" y="1107.1" font-size="8.6" text-anchor="middle" fill="#222" transform="rotate(-90 46.3 1107.1)">1.5</text>
<text x="46.3" y="1052" font-size="8.6" text-anchor="middle" fill="#222" transform="rotate(-90 46.3 1052)">2.0</text>
<text x="46.3" y="996.9" font-size="8.6" text-anchor="middle" fill="#222" transform="rotate(-90 46.3 996.9)">2.5</text>
<path d="M67.72 1282.5V1287.5M124.26 1282.5V1287.5M180.8 1282.5V1287.5M237.34 1282.5V1287.5M293.88 1282.5V1287.5M58.7 1272.4H54.2M58.7 1217.3H54.2M58.7 1162.2H54.2M58.7 1107.1H54.2M58.7 1052H54.2M58.7 996.9H54.2" stroke="#555" stroke-width=".8" fill="none"/>
<text x="182.4" y="1326.5" font-size="15.3" text-anchor="middle">Log2 (Difference pN+ vs pN0)</text>
<text x="21.3" y="1131" font-size="15.6" text-anchor="middle" transform="rotate(-90 21.3 1131)">-Log10 (p)</text>
<circle cx="309.1" cy="994.1" r="1.9" fill="#ffa31a"/><circle cx="309.1" cy="1011.4" r="1.9" fill="#ffa31a"/>
<text x="314.7" y="996.9" font-size="11.3" fill="#111">CD209 - Exclusive pN0</text>
<text x="314.7" y="1014.5" font-size="11.3" fill="#111">TGFB1I1 - Exclusive pN0</text>
<rect x="71.2" y="1345.5" width="13.1" height="11.2" fill="#ffa000"/>
<text x="91.2" y="1356" font-size="13.6" fill="#111">Downregulated</text>
<rect x="196.3" y="1345.5" width="13.6" height="11.2" fill="#0a3cff"/>
<text x="214.9" y="1356" font-size="13.6" fill="#111">Upregulated</text>
</g>
<g id="pe">
<text x="385.4" y="1080.1" font-size="30" font-weight="bold">e</text>
<rect x="425.51" y="1130.09" width="20.28" height="231" fill="#84c6f8"/>
<rect x="450.44" y="1130.76" width="20.28" height="230.34" fill="#84c6f8"/>
<rect x="475.03" y="1132.75" width="20.28" height="228.35" fill="#84c6f8"/>
<rect x="499.96" y="1132.75" width="20.28" height="228.35" fill="#84c6f8"/>
<rect x="524.56" y="1156.02" width="20.61" height="205.08" fill="#84c6f8"/>
<rect x="549.49" y="1163" width="20.28" height="198.1" fill="#84c6f8"/>
<rect x="574.08" y="1165.66" width="20.61" height="195.44" fill="#84c6f8"/>
<rect x="599.01" y="1170.98" width="20.28" height="190.12" fill="#84c6f8"/>
<rect x="623.94" y="1170.98" width="20.28" height="190.12" fill="#84c6f8"/>
<rect x="648.53" y="1170.98" width="20.61" height="190.12" fill="#84c6f8"/>
<text x="440.05" y="1359.1" font-size="13.5" fill="#111" transform="rotate(-90 440.05 1359.1)">Regulation of mRNA splicing, via spliceosome</text>
<text x="464.97" y="1359.1" font-size="13.5" fill="#111" transform="rotate(-90 464.97 1359.1)">mRNA cis splicing, via spliceosome</text>
<text x="489.57" y="1359.1" font-size="13.5" fill="#111" transform="rotate(-90 489.57 1359.1)">Regulation of RNA splicing</text>
<text x="514.5" y="1359.1" font-size="13.5" fill="#111" transform="rotate(-90 514.5 1359.1)">Regulation of mRNA processing</text>
<text x="539.26" y="1359.1" font-size="13.5" fill="#111" transform="rotate(-90 539.26 1359.1)">Regulation of alternative mRNA splicing, via spliceosome</text>
<text x="564.02" y="1359.1" font-size="13.5" fill="#111" transform="rotate(-90 564.02 1359.1)">Alternative mRNA splicing, via spliceosome</text>
<text x="588.79" y="1359.1" font-size="13.5" fill="#111" transform="rotate(-90 588.79 1359.1)">Regulation of mRNA metabolic process</text>
<text x="613.55" y="1359.1" font-size="13.5" fill="#111" transform="rotate(-90 613.55 1359.1)">RNA splicing, via transesterification reactions</text>
<text x="638.48" y="1359.1" font-size="13.5" fill="#111" transform="rotate(-90 638.48 1359.1)">RNA splicing, via transesterification reactions with bulged adenosine</text>
<text x="663.24" y="1359.1" font-size="13.5" fill="#111" transform="rotate(-90 663.24 1359.1)">mRNA splicing, via spliceosome</text>
<path d="M415.54 1093.86V1361.1H679.11" stroke="#b5b5b5" stroke-width="1" fill="none"/>
<text x="413.87" y="1097.86" font-size="11.3" text-anchor="end" fill="#111">8</text>
<text x="413.87" y="1164.34" font-size="11.3" text-anchor="end" fill="#111">6</text>
<text x="413.87" y="1231.48" font-size="11.3" text-anchor="end" fill="#111">4</text>
<text x="413.87" y="1298.62" font-size="11.3" text-anchor="end" fill="#111">2</text>
<text x="413.87" y="1365.1" font-size="11.3" text-anchor="end" fill="#111">0</text>
<text x="406.44" y="1232.13" font-size="13.3" text-anchor="middle" fill="#111" transform="rotate(-90 406.44 1232.13)">-Log10(FDR)</text>
</g>
<g id="pf">
<text x="719.6" y="830.6" font-size="30" font-weight="bold">f</text>
<text x="761" y="824.5" font-size="14.8" fill="#111">Signature’s AUC by Classifier</text>
<text x="761" y="843.6" font-size="14.8" fill="#111">SRSF1, SRSF2, SRSF3, SRSF5, TRA2A, CD209</text>
<text x="763.6" y="875.6" font-size="14.75" fill="#111">Protein level</text>
<text x="763.6" y="1091" font-size="14.75" fill="#111">Transcript level</text>
<text x="731.2" y="1074.3" font-size="14.9" text-anchor="middle" fill="#111" transform="rotate(-90 731.2 1074.3)">AUC</text>
<path d="M774.1 890.6H796.5V912.2H774.1ZM785.3 912.2V943.8M779.6 943.8H791M817.73 890.6H840.13V910.6H817.73ZM828.93 910.6V937.6M823.23 937.6H834.63M861.36 896.4H883.76V911.6H861.36ZM872.56 896.4V890.6M866.86 890.6H878.26M872.56 911.6V932.8M866.86 932.8H878.26M904.99 894.4H927.39V917.4H904.99ZM916.19 894.4V890.6M910.49 890.6H921.89M916.19 917.4V941.6M910.49 941.6H921.89M948.62 896.4H971.02V912.2H948.62ZM959.82 896.4V890.6M954.12 890.6H965.52M959.82 912.2V933.8M954.12 933.8H965.52M992.25 894.4H1014.65V918H992.25ZM1003.45 894.4V890.6M997.75 890.6H1009.15M1003.45 918V951.4M997.75 951.4H1009.15M1035.88 898.4H1058.28V920.2H1035.88ZM1047.08 898.4V890.6M1041.38 890.6H1052.78M1047.08 920.2V951.4M1041.38 951.4H1052.78M1079.51 900.4H1101.91V928.4H1079.51ZM1090.71 900.4V890.6M1085.01 890.6H1096.41M1090.71 928.4V965.4M1085.01 965.4H1096.41M1123.14 917.2H1145.54V931.4H1123.14ZM1134.34 917.2V903.4M1128.64 903.4H1140.04M1134.34 931.4V944.8M1128.64 944.8H1140.04M1166.77 920.2H1189.17V934H1166.77ZM1177.97 920.2V903.4M1172.27 903.4H1183.67M1177.97 934V954.4M1172.27 954.4H1183.67" stroke="#1a1a1a" stroke-width=".85" fill="none"/>
<path d="M774.5 897.4H796.1M818.13 898.4H839.73M861.76 902.4H883.36M905.39 902.4H926.99M949.02 904.4H970.62M992.65 904.4H1014.25M1036.28 912H1057.88M1079.91 913H1101.51M1123.54 930.2H1145.14M1167.17 928.2H1188.77" stroke="#ffa64d" stroke-width="1" fill="none"/>
<g fill="none" stroke="#111" stroke-width=".72"><ellipse cx="785.3" cy="950" rx="2.2" ry="2.2"/><ellipse cx="785.3" cy="951.6" rx="2.2" ry="2.2"/><ellipse cx="785.3" cy="953.2" rx="2.2" ry="2.2"/><ellipse cx="785.3" cy="955" rx="2.2" ry="2.2"/><ellipse cx="785.3" cy="956.2" rx="2.2" ry="2.2"/><ellipse cx="785.3" cy="961.2" rx="2.2" ry="2.2"/><ellipse cx="785.3" cy="966.6" rx="2.2" ry="2.2"/><ellipse cx="785.3" cy="968" rx="2.2" ry="2.2"/><ellipse cx="785.3" cy="969.2" rx="2.2" ry="2.2"/><ellipse cx="785.3" cy="977.2" rx="2.2" ry="2.2"/><ellipse cx="828.93" cy="941.6" rx="2.2" ry="2.2"/><ellipse cx="828.93" cy="945.4" rx="2.2" ry="2.2"/><ellipse cx="828.93" cy="949.6" rx="2.2" ry="2.2"/><ellipse cx="828.93" cy="951" rx="2.2" ry="2.2"/><ellipse cx="828.93" cy="952.4" rx="2.2" ry="2.2"/><ellipse cx="828.93" cy="954" rx="2.2" ry="2.2"/><ellipse cx="828.93" cy="955.6" rx="2.2" ry="2.2"/><ellipse cx="828.93" cy="957.2" rx="2.2" ry="2.2"/><ellipse cx="828.93" cy="958.8" rx="2.2" ry="2.2"/><ellipse cx="828.93" cy="960.4" rx="2.2" ry="2.2"/><ellipse cx="828.93" cy="962" rx="2.2" ry="2.2"/><ellipse cx="828.93" cy="963.6" rx="2.2" ry="2.2"/><ellipse cx="828.93" cy="967.4" rx="2.2" ry="2.2"/><ellipse cx="828.93" cy="974.8" rx="2.2" ry="2.2"/><ellipse cx="828.93" cy="983.2" rx="2.2" ry="2.2"/><ellipse cx="828.93" cy="987" rx="2.2" ry="2.2"/><ellipse cx="828.93" cy="992.4" rx="2.2" ry="2.2"/><ellipse cx="828.93" cy="996.8" rx="2.2" ry="2.2"/><ellipse cx="828.93" cy="1031.8" rx="2.2" ry="2.2" stroke-width="1.15"/><ellipse cx="828.93" cy="1046.2" rx="2.2" ry="2.2" stroke-width="1.15"/><ellipse cx="872.56" cy="934.8" rx="2.2" ry="2.2"/><ellipse cx="872.56" cy="939.8" rx="2.2" ry="2.2"/><ellipse cx="872.56" cy="945" rx="2.2" ry="2.2"/><ellipse cx="872.56" cy="946.2" rx="2.2" ry="2.2"/><ellipse cx="872.56" cy="947.4" rx="2.2" ry="2.2"/><ellipse cx="872.56" cy="948.6" rx="2.2" ry="2.2"/><ellipse cx="872.56" cy="950" rx="2.2" ry="2.2"/><ellipse cx="872.56" cy="956.4" rx="2.2" ry="2.2"/><ellipse cx="872.56" cy="1028.6" rx="2.2" ry="2.2"/><ellipse cx="872.56" cy="1031.4" rx="2.2" ry="2.2"/><ellipse cx="872.56" cy="1032.8" rx="2.2" ry="2.2"/><ellipse cx="872.56" cy="1034.4" rx="2.2" ry="2.2"/><ellipse cx="872.56" cy="1043.6" rx="2.2" ry="2.2"/><ellipse cx="872.56" cy="1045.2" rx="2.2" ry="2.2"/><ellipse cx="872.56" cy="1046.4" rx="2.2" ry="2.2"/><ellipse cx="916.19" cy="1031.8" rx="2.2" ry="2.2" stroke-width="1.15"/><ellipse cx="916.19" cy="1046.2" rx="2.2" ry="2.2" stroke-width="1.15"/><ellipse cx="959.82" cy="938" rx="2.2" ry="2.2"/><ellipse cx="959.82" cy="944" rx="2.2" ry="2.2"/><ellipse cx="959.82" cy="946" rx="2.2" ry="2.2"/><ellipse cx="959.82" cy="953" rx="2.2" ry="2.2"/><ellipse cx="959.82" cy="959" rx="2.2" ry="2.2"/><ellipse cx="959.82" cy="961" rx="2.2" ry="2.2"/><ellipse cx="959.82" cy="962.4" rx="2.2" ry="2.2"/><ellipse cx="959.82" cy="967" rx="2.2" ry="2.2"/><ellipse cx="959.82" cy="969" rx="2.2" ry="2.2"/><ellipse cx="959.82" cy="973" rx="2.2" ry="2.2"/><ellipse cx="959.82" cy="975" rx="2.2" ry="2.2"/><ellipse cx="959.82" cy="979" rx="2.2" ry="2.2"/><ellipse cx="959.82" cy="983.2" rx="2.2" ry="2.2"/><ellipse cx="959.82" cy="992" rx="2.2" ry="2.2"/><ellipse cx="959.82" cy="994.4" rx="2.2" ry="2.2"/><ellipse cx="959.82" cy="997.2" rx="2.2" ry="2.2"/><ellipse cx="959.82" cy="1001" rx="2.2" ry="2.2"/><ellipse cx="959.82" cy="1031.8" rx="2.2" ry="2.2" stroke-width="1.15"/><ellipse cx="959.82" cy="1046.2" rx="2.2" ry="2.2" stroke-width="1.15"/><ellipse cx="1003.45" cy="961.6" rx="2.2" ry="2.2"/><ellipse cx="1003.45" cy="973" rx="2.2" ry="2.2"/><ellipse cx="1003.45" cy="979" rx="2.2" ry="2.2"/><ellipse cx="1003.45" cy="987" rx="2.2" ry="2.2"/><ellipse cx="1003.45" cy="991" rx="2.2" ry="2.2"/><ellipse cx="1003.45" cy="995" rx="2.2" ry="2.2"/><ellipse cx="1003.45" cy="997" rx="2.2" ry="2.2"/><ellipse cx="1003.45" cy="1004.4" rx="2.2" ry="2.2"/><ellipse cx="1003.45" cy="1011" rx="2.2" ry="2.2"/><ellipse cx="1003.45" cy="1012.4" rx="2.2" ry="2.2"/><ellipse cx="1003.45" cy="1014" rx="2.2" ry="2.2"/><ellipse cx="1003.45" cy="1016" rx="2.2" ry="2.2"/><ellipse cx="1003.45" cy="1018.4" rx="2.2" ry="2.2"/><ellipse cx="1003.45" cy="1031.6" rx="2.2" ry="2.2"/><ellipse cx="1003.45" cy="1035.8" rx="2.2" ry="2.2"/><ellipse cx="1047.08" cy="954" rx="2.2" ry="2.2"/><ellipse cx="1047.08" cy="956.4" rx="2.2" ry="2.2"/><ellipse cx="1047.08" cy="959" rx="2.2" ry="2.2"/><ellipse cx="1047.08" cy="963.6" rx="2.2" ry="2.2"/><ellipse cx="1047.08" cy="965.6" rx="2.2" ry="2.2"/><ellipse cx="1047.08" cy="967.6" rx="2.2" ry="2.2"/><ellipse cx="1047.08" cy="969.6" rx="2.2" ry="2.2"/><ellipse cx="1047.08" cy="972" rx="2.2" ry="2.2"/><ellipse cx="1047.08" cy="974" rx="2.2" ry="2.2"/><ellipse cx="1047.08" cy="975.6" rx="2.2" ry="2.2"/><ellipse cx="1047.08" cy="983" rx="2.2" ry="2.2"/><ellipse cx="1047.08" cy="989" rx="2.2" ry="2.2"/><ellipse cx="1047.08" cy="992.4" rx="2.2" ry="2.2"/><ellipse cx="1047.08" cy="995" rx="2.2" ry="2.2"/><ellipse cx="1047.08" cy="998" rx="2.2" ry="2.2"/><ellipse cx="1047.08" cy="1001" rx="2.2" ry="2.2"/><ellipse cx="1047.08" cy="1031.8" rx="2.2" ry="2.2" stroke-width="1.15"/><ellipse cx="1047.08" cy="1046.2" rx="2.2" ry="2.2" stroke-width="1.15"/><ellipse cx="1090.71" cy="971.6" rx="2.2" ry="2.2"/><ellipse cx="1090.71" cy="973.2" rx="2.2" ry="2.2"/><ellipse cx="1090.71" cy="975" rx="2.2" ry="2.2"/><ellipse cx="1090.71" cy="989.4" rx="2.2" ry="2.2"/><ellipse cx="1090.71" cy="996.4" rx="2.2" ry="2.2"/><ellipse cx="1090.71" cy="999" rx="2.2" ry="2.2"/><ellipse cx="1090.71" cy="1002" rx="2.2" ry="2.2"/><ellipse cx="1090.71" cy="1004.4" rx="2.2" ry="2.2"/><ellipse cx="1090.71" cy="1007" rx="2.2" ry="2.2"/><ellipse cx="1090.71" cy="1009" rx="2.2" ry="2.2"/><ellipse cx="1090.71" cy="1012.4" rx="2.2" ry="2.2"/><ellipse cx="1090.71" cy="1031.8" rx="2.2" ry="2.2" stroke-width="1.15"/><ellipse cx="1090.71" cy="1046.2" rx="2.2" ry="2.2" stroke-width="1.15"/><ellipse cx="1134.34" cy="955.6" rx="2.2" ry="2.2" stroke-width="1.15"/><ellipse cx="1134.34" cy="956.2" rx="2.2" ry="2.2" stroke-width="1.15"/><ellipse cx="1134.34" cy="956.8" rx="2.2" ry="2.2" stroke-width="1.15"/><ellipse cx="1134.34" cy="957.4" rx="2.2" ry="2.2" stroke-width="1.15"/><ellipse cx="1134.34" cy="958" rx="2.2" ry="2.2" stroke-width="1.15"/><ellipse cx="1134.34" cy="958.6" rx="2.2" ry="2.2" stroke-width="1.15"/><ellipse cx="1134.34" cy="959.2" rx="2.2" ry="2.2" stroke-width="1.15"/><ellipse cx="1134.34" cy="969.6" rx="2.2" ry="2.2" stroke-width="1.15"/><ellipse cx="1134.34" cy="970.2" rx="2.2" ry="2.2" stroke-width="1.15"/><ellipse cx="1134.34" cy="970.8" rx="2.2" ry="2.2" stroke-width="1.15"/><ellipse cx="1134.34" cy="971.4" rx="2.2" ry="2.2" stroke-width="1.15"/><ellipse cx="1134.34" cy="972" rx="2.2" ry="2.2" stroke-width="1.15"/><ellipse cx="1134.34" cy="984.4" rx="2.2" ry="2.2" stroke-width="1.15"/><ellipse cx="1134.34" cy="984.8" rx="2.2" ry="2.2" stroke-width="1.15"/><ellipse cx="1134.34" cy="985.2" rx="2.2" ry="2.2" stroke-width="1.15"/><ellipse cx="1134.34" cy="996.8" rx="2.2" ry="2.2" stroke-width="1.15"/><ellipse cx="1134.34" cy="997.4" rx="2.2" ry="2.2" stroke-width="1.15"/><ellipse cx="1134.34" cy="998" rx="2.2" ry="2.2" stroke-width="1.15"/><ellipse cx="1134.34" cy="1010.8" rx="2.2" ry="2.2"/><ellipse cx="1134.34" cy="1031.8" rx="2.2" ry="2.2" stroke-width="1.15"/><ellipse cx="1134.34" cy="1046.2" rx="2.2" ry="2.2" stroke-width="1.15"/><ellipse cx="1177.97" cy="955" rx="2.2" ry="2.2"/><ellipse cx="1177.97" cy="955.6" rx="2.2" ry="2.2"/><ellipse cx="1177.97" cy="956.4" rx="2.2" ry="2.2"/><ellipse cx="1177.97" cy="957.2" rx="2.2" ry="2.2"/><ellipse cx="1177.97" cy="958" rx="2.2" ry="2.2"/><ellipse cx="1177.97" cy="958.8" rx="2.2" ry="2.2"/><ellipse cx="1177.97" cy="959.6" rx="2.2" ry="2.2"/><ellipse cx="1177.97" cy="960.4" rx="2.2" ry="2.2"/><ellipse cx="1177.97" cy="961.2" rx="2.2" ry="2.2"/><ellipse cx="1177.97" cy="962" rx="2.2" ry="2.2"/><ellipse cx="1177.97" cy="962.8" rx="2.2" ry="2.2"/><ellipse cx="1177.97" cy="964" rx="2.2" ry="2.2"/><ellipse cx="1177.97" cy="965.6" rx="2.2" ry="2.2"/><ellipse cx="1177.97" cy="967.4" rx="2.2" ry="2.2"/><ellipse cx="1177.97" cy="972" rx="2.2" ry="2.2"/><ellipse cx="1177.97" cy="973.4" rx="2.2" ry="2.2"/><ellipse cx="1177.97" cy="975" rx="2.2" ry="2.2"/><ellipse cx="1177.97" cy="978" rx="2.2" ry="2.2"/><ellipse cx="1177.97" cy="982" rx="2.2" ry="2.2"/><ellipse cx="1177.97" cy="984" rx="2.2" ry="2.2"/><ellipse cx="1177.97" cy="986.4" rx="2.2" ry="2.2"/><ellipse cx="1177.97" cy="991.4" rx="2.2" ry="2.2"/><ellipse cx="1177.97" cy="1007.6" rx="2.2" ry="2.2"/><ellipse cx="1177.97" cy="1031.8" rx="2.2" ry="2.2" stroke-width="1.15"/><ellipse cx="1177.97" cy="1046.2" rx="2.2" ry="2.2" stroke-width="1.15"/></g>
<path d="M782.4 904.6L785.3 901.7L788.2 904.6L785.3 907.5ZM826.03 905.6L828.93 902.7L831.83 905.6L828.93 908.5ZM869.66 907L872.56 904.1L875.46 907L872.56 909.9ZM913.29 908L916.19 905.1L919.09 908L916.19 910.9ZM956.92 909.6L959.82 906.7L962.72 909.6L959.82 912.5ZM1000.55 910L1003.45 907.1L1006.35 910L1003.45 912.9ZM1044.18 914.4L1047.08 911.5L1049.98 914.4L1047.08 917.3ZM1087.81 917.6L1090.71 914.7L1093.61 917.6L1090.71 920.5ZM1131.44 929.6L1134.34 926.7L1137.24 929.6L1134.34 932.5ZM1175.07 930.6L1177.97 927.7L1180.87 930.6L1177.97 933.5Z" fill="#e0524f" stroke="#5a2020" stroke-width=".5"/>
<rect x="763.5" y="883.5" width="435.7" height="184.9" fill="none" stroke="#222" stroke-width=".9"/>
<text x="759.2" y="895.4" font-size="13.6" text-anchor="end" fill="#111">1.0</text>
<text x="759.2" y="967" font-size="13.6" text-anchor="end" fill="#111">0.8</text>
<text x="759.2" y="1038.5" font-size="13.6" text-anchor="end" fill="#111">0.6</text>
<path d="M785.3 1068.4V1070.8M828.93 1068.4V1070.8M872.56 1068.4V1070.8M916.19 1068.4V1070.8M959.82 1068.4V1070.8M1003.45 1068.4V1070.8M1047.08 1068.4V1070.8M1090.71 1068.4V1070.8M1134.34 1068.4V1070.8M1177.97 1068.4V1070.8M763.5 890.6H761.2M763.5 962.2H761.2M763.5 1033.7H761.2" stroke="#222" stroke-width=".8" fill="none"/>
<clipPath id="cf2"><rect x="760" y="1099" width="440" height="186.5"/></clipPath>
<path d="M773.2 1115.6H795.6V1127.4H773.2ZM784.4 1115.6V1106.8M778.7 1106.8H790.1M784.4 1127.4V1144.4M778.7 1144.4H790.1M816.83 1115.6H839.23V1138.4H816.83ZM828.03 1115.6V1106.8M822.33 1106.8H833.73M828.03 1138.4V1170M822.33 1170H833.73M860.46 1118.4H882.86V1127.4H860.46ZM871.66 1118.4V1110M865.96 1110H877.36M871.66 1127.4V1138.4M865.96 1138.4H877.36M904.09 1121.8H926.49V1138.4H904.09ZM915.29 1121.8V1104.4M909.59 1104.4H920.99M915.29 1138.4V1162.4M909.59 1162.4H920.99M947.72 1118.4H970.12V1144.4H947.72ZM958.92 1118.4V1104.4M953.22 1104.4H964.62M958.92 1144.4V1181.4M953.22 1181.4H964.62M991.35 1121.6H1013.75V1144.4H991.35ZM1002.55 1121.6V1110M996.85 1110H1008.25M1002.55 1144.4V1175.8M996.85 1175.8H1008.25M1034.98 1124.4H1057.38V1144.4H1034.98ZM1046.18 1124.4V1110M1040.48 1110H1051.88M1046.18 1144.4V1173M1040.48 1173H1051.88M1078.61 1124.4H1101.01V1150.2H1078.61ZM1089.81 1124.4V1110M1084.11 1110H1095.51M1089.81 1150.2V1187M1084.11 1187H1095.51M1122.24 1158.6H1144.64V1173H1122.24ZM1133.44 1158.6V1143M1127.74 1143H1139.14M1133.44 1173V1187M1127.74 1187H1139.14M1165.87 1155.8H1188.27V1184.2H1165.87ZM1177.07 1155.8V1112.6M1171.37 1112.6H1182.77M1177.07 1184.2V1227.4M1171.37 1227.4H1182.77" stroke="#1a1a1a" stroke-width=".85" fill="none"/>
<path d="M773.6 1121.6H795.2M817.23 1121.6H838.83M860.86 1121.6H882.46M904.49 1130.2H926.09M948.12 1127.4H969.72M991.75 1130.4H1013.35M1035.38 1132.6H1056.98M1079.01 1138.4H1100.61M1122.64 1171.8H1144.24M1166.27 1167.2H1187.87" stroke="#ffa64d" stroke-width="1" fill="none"/>
<g fill="none" stroke="#111" stroke-width=".72"><ellipse cx="784.4" cy="1146.4" rx="2.2" ry="1.6"/><ellipse cx="784.4" cy="1149" rx="2.2" ry="1.6"/><ellipse cx="784.4" cy="1151.6" rx="2.2" ry="1.6"/><ellipse cx="784.4" cy="1154.2" rx="2.2" ry="1.6"/><ellipse cx="784.4" cy="1156.8" rx="2.2" ry="1.6"/><ellipse cx="784.4" cy="1159.4" rx="2.2" ry="1.6"/><ellipse cx="784.4" cy="1162" rx="2.2" ry="1.6"/><ellipse cx="784.4" cy="1164.6" rx="2.2" ry="1.6"/><ellipse cx="784.4" cy="1167.2" rx="2.2" ry="1.6"/><ellipse cx="784.4" cy="1169.8" rx="2.2" ry="1.6"/><ellipse cx="784.4" cy="1172.4" rx="2.2" ry="1.6"/><ellipse cx="784.4" cy="1175" rx="2.2" ry="1.6"/><ellipse cx="784.4" cy="1177.6" rx="2.2" ry="1.6"/><ellipse cx="784.4" cy="1180.2" rx="2.2" ry="1.6"/><ellipse cx="784.4" cy="1182.8" rx="2.2" ry="1.6"/><ellipse cx="784.4" cy="1185.4" rx="2.2" ry="1.6"/><ellipse cx="784.4" cy="1188" rx="2.2" ry="1.6"/><ellipse cx="784.4" cy="1190.6" rx="2.2" ry="1.6"/><ellipse cx="784.4" cy="1193.2" rx="2.2" ry="1.6"/><ellipse cx="784.4" cy="1195.6" rx="2.2" ry="1.6"/><ellipse cx="828.03" cy="1176" rx="2.2" ry="1.6"/><ellipse cx="828.03" cy="1178.6" rx="2.2" ry="1.6"/><ellipse cx="828.03" cy="1181.2" rx="2.2" ry="1.6"/><ellipse cx="828.03" cy="1183.8" rx="2.2" ry="1.6"/><ellipse cx="828.03" cy="1186.4" rx="2.2" ry="1.6"/><ellipse cx="828.03" cy="1189" rx="2.2" ry="1.6"/><ellipse cx="828.03" cy="1191.6" rx="2.2" ry="1.6"/><ellipse cx="828.03" cy="1194.2" rx="2.2" ry="1.6"/><ellipse cx="828.03" cy="1196.8" rx="2.2" ry="1.6"/><ellipse cx="828.03" cy="1198.6" rx="2.2" ry="1.6"/><ellipse cx="871.66" cy="1144.4" rx="2.2" ry="1.6"/><ellipse cx="871.66" cy="1147" rx="2.2" ry="1.6"/><ellipse cx="871.66" cy="1149.6" rx="2.2" ry="1.6"/><ellipse cx="871.66" cy="1152.2" rx="2.2" ry="1.6"/><ellipse cx="871.66" cy="1154.8" rx="2.2" ry="1.6"/><ellipse cx="871.66" cy="1157.4" rx="2.2" ry="1.6"/><ellipse cx="871.66" cy="1160" rx="2.2" ry="1.6"/><ellipse cx="871.66" cy="1162.6" rx="2.2" ry="1.6"/><ellipse cx="871.66" cy="1165.2" rx="2.2" ry="1.6"/><ellipse cx="871.66" cy="1167.8" rx="2.2" ry="1.6"/><ellipse cx="871.66" cy="1170.4" rx="2.2" ry="1.6"/><ellipse cx="871.66" cy="1173" rx="2.2" ry="1.6"/><ellipse cx="871.66" cy="1175.6" rx="2.2" ry="1.6"/><ellipse cx="871.66" cy="1178.2" rx="2.2" ry="1.6"/><ellipse cx="871.66" cy="1180.8" rx="2.2" ry="1.6"/><ellipse cx="871.66" cy="1183.4" rx="2.2" ry="1.6"/><ellipse cx="871.66" cy="1186" rx="2.2" ry="1.6"/><ellipse cx="871.66" cy="1188.6" rx="2.2" ry="1.6"/><ellipse cx="871.66" cy="1191.2" rx="2.2" ry="1.6"/><ellipse cx="871.66" cy="1193.8" rx="2.2" ry="1.6"/><ellipse cx="871.66" cy="1195.6" rx="2.2" ry="1.6"/><ellipse cx="915.29" cy="1163.6" rx="2.2" ry="1.6"/><ellipse cx="915.29" cy="1165.4" rx="2.2" ry="1.6"/><ellipse cx="915.29" cy="1167" rx="2.2" ry="1.6"/><ellipse cx="915.29" cy="1172" rx="2.2" ry="1.6"/><ellipse cx="915.29" cy="1174" rx="2.2" ry="1.6"/><ellipse cx="915.29" cy="1176" rx="2.2" ry="1.6"/><ellipse cx="915.29" cy="1178" rx="2.2" ry="1.6"/><ellipse cx="915.29" cy="1180" rx="2.2" ry="1.6"/><ellipse cx="915.29" cy="1183" rx="2.2" ry="1.6"/><ellipse cx="915.29" cy="1185" rx="2.2" ry="1.6"/><ellipse cx="915.29" cy="1188" rx="2.2" ry="1.6"/><ellipse cx="915.29" cy="1190" rx="2.2" ry="1.6"/><ellipse cx="915.29" cy="1193" rx="2.2" ry="1.6"/><ellipse cx="915.29" cy="1194.6" rx="2.2" ry="1.6"/><ellipse cx="915.29" cy="1202.4" rx="2.2" ry="1.6"/><ellipse cx="915.29" cy="1204" rx="2.2" ry="1.6"/><ellipse cx="915.29" cy="1208.6" rx="2.2" ry="1.6"/><ellipse cx="915.29" cy="1212.6" rx="2.2" ry="1.6"/><ellipse cx="915.29" cy="1218.6" rx="2.2" ry="1.6"/><ellipse cx="958.92" cy="1184" rx="2.2" ry="1.6"/><ellipse cx="958.92" cy="1186.6" rx="2.2" ry="1.6"/><ellipse cx="958.92" cy="1189.4" rx="2.2" ry="1.6"/><ellipse cx="958.92" cy="1192" rx="2.2" ry="1.6"/><ellipse cx="958.92" cy="1195" rx="2.2" ry="1.6"/><ellipse cx="958.92" cy="1196.6" rx="2.2" ry="1.6"/><ellipse cx="958.92" cy="1201.4" rx="2.2" ry="1.6"/><ellipse cx="958.92" cy="1207" rx="2.2" ry="1.6"/><ellipse cx="958.92" cy="1209.4" rx="2.2" ry="1.6"/><ellipse cx="958.92" cy="1212.6" rx="2.2" ry="1.6"/><ellipse cx="958.92" cy="1215.4" rx="2.2" ry="1.6"/><ellipse cx="958.92" cy="1218.6" rx="2.2" ry="1.6"/><ellipse cx="958.92" cy="1238.6" rx="2.2" ry="1.6"/><ellipse cx="1002.55" cy="1178.4" rx="2.2" ry="1.6"/><ellipse cx="1002.55" cy="1181" rx="2.2" ry="1.6"/><ellipse cx="1002.55" cy="1183.6" rx="2.2" ry="1.6"/><ellipse cx="1002.55" cy="1186.2" rx="2.2" ry="1.6"/><ellipse cx="1002.55" cy="1188.8" rx="2.2" ry="1.6"/><ellipse cx="1002.55" cy="1191.4" rx="2.2" ry="1.6"/><ellipse cx="1002.55" cy="1194" rx="2.2" ry="1.6"/><ellipse cx="1002.55" cy="1196.6" rx="2.2" ry="1.6"/><ellipse cx="1002.55" cy="1199.2" rx="2.2" ry="1.6"/><ellipse cx="1002.55" cy="1201.8" rx="2.2" ry="1.6"/><ellipse cx="1002.55" cy="1204.4" rx="2.2" ry="1.6"/><ellipse cx="1002.55" cy="1207" rx="2.2" ry="1.6"/><ellipse cx="1002.55" cy="1209.6" rx="2.2" ry="1.6"/><ellipse cx="1002.55" cy="1212.2" rx="2.2" ry="1.6"/><ellipse cx="1002.55" cy="1213.4" rx="2.2" ry="1.6"/><ellipse cx="1002.55" cy="1218.4" rx="2.2" ry="1.6"/><ellipse cx="1002.55" cy="1224.2" rx="2.2" ry="1.6"/><ellipse cx="1002.55" cy="1233" rx="2.2" ry="1.6"/><ellipse cx="1002.55" cy="1238.6" rx="2.2" ry="1.6"/><ellipse cx="1046.18" cy="1175.6" rx="2.2" ry="1.6"/><ellipse cx="1046.18" cy="1177.2" rx="2.2" ry="1.6"/><ellipse cx="1046.18" cy="1179" rx="2.2" ry="1.6"/><ellipse cx="1046.18" cy="1182" rx="2.2" ry="1.6"/><ellipse cx="1046.18" cy="1184.6" rx="2.2" ry="1.6"/><ellipse cx="1046.18" cy="1187.4" rx="2.2" ry="1.6"/><ellipse cx="1046.18" cy="1190" rx="2.2" ry="1.6"/><ellipse cx="1046.18" cy="1193" rx="2.2" ry="1.6"/><ellipse cx="1046.18" cy="1195.6" rx="2.2" ry="1.6"/><ellipse cx="1046.18" cy="1204.6" rx="2.2" ry="1.6"/><ellipse cx="1046.18" cy="1207.4" rx="2.2" ry="1.6"/><ellipse cx="1046.18" cy="1224" rx="2.2" ry="1.6"/><ellipse cx="1046.18" cy="1226.6" rx="2.2" ry="1.6"/><ellipse cx="1046.18" cy="1229.4" rx="2.2" ry="1.6"/><ellipse cx="1046.18" cy="1231" rx="2.2" ry="1.6"/><ellipse cx="1046.18" cy="1235.4" rx="2.2" ry="1.6"/><ellipse cx="1046.18" cy="1241.4" rx="2.2" ry="1.6"/><ellipse cx="1046.18" cy="1252.4" rx="2.2" ry="1.6"/><ellipse cx="1046.18" cy="1255" rx="2.2" ry="1.6"/><ellipse cx="1046.18" cy="1256.6" rx="2.2" ry="1.6"/><ellipse cx="1046.18" cy="1262" rx="2.2" ry="1.6"/><ellipse cx="1046.18" cy="1267" rx="2.2" ry="1.6"/><ellipse cx="1046.18" cy="1270" rx="2.2" ry="1.6"/><ellipse cx="1046.18" cy="1273" rx="2.2" ry="1.6"/><ellipse cx="1089.81" cy="1189.6" rx="2.2" ry="1.6"/><ellipse cx="1089.81" cy="1192.6" rx="2.2" ry="1.6"/><ellipse cx="1089.81" cy="1195.6" rx="2.2" ry="1.6"/><ellipse cx="1089.81" cy="1198.6" rx="2.2" ry="1.6"/><ellipse cx="1133.44" cy="1104.6" rx="2.2" ry="1.6"/><ellipse cx="1133.44" cy="1117" rx="2.2" ry="1.6"/><ellipse cx="1133.44" cy="1117.6" rx="2.2" ry="1.6"/><ellipse cx="1133.44" cy="1118.4" rx="2.2" ry="1.6"/><ellipse cx="1133.44" cy="1130.6" rx="2.2" ry="1.6"/><ellipse cx="1133.44" cy="1131.4" rx="2.2" ry="1.6"/><ellipse cx="1133.44" cy="1132" rx="2.2" ry="1.6"/><ellipse cx="1133.44" cy="1133" rx="2.2" ry="1.6"/><ellipse cx="1133.44" cy="1197.4" rx="2.2" ry="1.6"/><ellipse cx="1133.44" cy="1198.2" rx="2.2" ry="1.6"/><ellipse cx="1133.44" cy="1199" rx="2.2" ry="1.6"/><ellipse cx="1133.44" cy="1199.8" rx="2.2" ry="1.6"/><ellipse cx="1133.44" cy="1200.6" rx="2.2" ry="1.6"/><ellipse cx="1133.44" cy="1210.6" rx="2.2" ry="1.6"/><ellipse cx="1133.44" cy="1211.2" rx="2.2" ry="1.6"/><ellipse cx="1133.44" cy="1211.8" rx="2.2" ry="1.6"/><ellipse cx="1133.44" cy="1213" rx="2.2" ry="1.6"/><ellipse cx="1133.44" cy="1223.4" rx="2.2" ry="1.6"/><ellipse cx="1133.44" cy="1224.2" rx="2.2" ry="1.6"/><ellipse cx="1133.44" cy="1225" rx="2.2" ry="1.6"/><ellipse cx="1133.44" cy="1226.2" rx="2.2" ry="1.6"/><ellipse cx="1133.44" cy="1240" rx="2.2" ry="1.6"/><ellipse cx="1177.07" cy="1104.6" rx="2.2" ry="1.6"/><ellipse cx="1177.07" cy="1106.4" rx="2.2" ry="1.6"/><ellipse cx="1177.07" cy="1108" rx="2.2" ry="1.6"/><ellipse cx="1177.07" cy="1110" rx="2.2" ry="1.6"/><ellipse cx="1177.07" cy="1228.6" rx="2.2" ry="1.6"/><ellipse cx="1177.07" cy="1230" rx="2.2" ry="1.6"/><ellipse cx="1177.07" cy="1231.4" rx="2.2" ry="1.6"/><ellipse cx="1177.07" cy="1233" rx="2.2" ry="1.6"/><ellipse cx="1177.07" cy="1234.6" rx="2.2" ry="1.6"/><ellipse cx="1177.07" cy="1236.2" rx="2.2" ry="1.6"/><ellipse cx="1177.07" cy="1239" rx="2.2" ry="1.6"/><ellipse cx="1177.07" cy="1241.4" rx="2.2" ry="1.6"/><ellipse cx="1177.07" cy="1247" rx="2.2" ry="1.6"/><ellipse cx="1177.07" cy="1250" rx="2.2" ry="1.6"/><ellipse cx="1177.07" cy="1257.4" rx="2.2" ry="1.6"/><ellipse cx="1177.07" cy="1258.6" rx="2.2" ry="1.6"/></g>
<path d="M781.5 1128.6L784.4 1126.6L787.3 1128.6L784.4 1130.6ZM825.13 1129.2L828.03 1127.2L830.93 1129.2L828.03 1131.2ZM868.76 1130.2L871.66 1128.2L874.56 1130.2L871.66 1132.2ZM912.39 1133L915.29 1131L918.19 1133L915.29 1135ZM956.02 1133.8L958.92 1131.8L961.82 1133.8L958.92 1135.8ZM999.65 1137.8L1002.55 1135.8L1005.45 1137.8L1002.55 1139.8ZM1043.28 1139.2L1046.18 1137.2L1049.08 1139.2L1046.18 1141.2ZM1086.91 1141L1089.81 1139L1092.71 1141L1089.81 1143ZM1130.54 1168.2L1133.44 1166.2L1136.34 1168.2L1133.44 1170.2ZM1174.17 1170.8L1177.07 1168.8L1179.97 1170.8L1177.07 1172.8Z" fill="#e0524f" stroke="#5a2020" stroke-width=".5"/>
<path d="M762.6 1099.4V1285.6H1198.3V1099.4" fill="none" stroke="#222" stroke-width=".9"/><path d="M762.6 1099.4H1198.3" stroke="#8a8a8a" stroke-width=".9"/>
<text x="759.2" y="1109.2" font-size="13.6" text-anchor="end" fill="#111">1.0</text>
<text x="759.2" y="1160.6" font-size="13.6" text-anchor="end" fill="#111">0.8</text>
<text x="759.2" y="1211.9" font-size="13.6" text-anchor="end" fill="#111">0.6</text>
<text x="759.2" y="1263.2" font-size="13.6" text-anchor="end" fill="#111">0.4</text>
<path d="M784.4 1285.6V1288M828.03 1285.6V1288M871.66 1285.6V1288M915.29 1285.6V1288M958.92 1285.6V1288M1002.55 1285.6V1288M1046.18 1285.6V1288M1089.81 1285.6V1288M1133.44 1285.6V1288M1177.07 1285.6V1288M762.6 1104.4H760.3M762.6 1155.8H760.3M762.6 1207.1H760.3M762.6 1258.4H760.3" stroke="#222" stroke-width=".8" fill="none"/>
<text x="790.1" y="1294.6" font-size="13.2" text-anchor="end" font-style="italic" fill="#111" transform="rotate(-68 790.1 1294.6)">svm-rbf</text>
<text x="833.73" y="1294.6" font-size="13.2" text-anchor="end" font-style="italic" fill="#111" transform="rotate(-68 833.73 1294.6)">ridge</text>
<text x="877.36" y="1294.6" font-size="13.2" text-anchor="end" font-style="italic" fill="#111" transform="rotate(-68 877.36 1294.6)">randForest</text>
<text x="920.99" y="1294.6" font-size="13.2" text-anchor="end" font-style="italic" fill="#111" transform="rotate(-68 920.99 1294.6)">svm-linear</text>
<text x="964.62" y="1294.6" font-size="13.2" text-anchor="end" font-style="italic" fill="#111" transform="rotate(-68 964.62 1294.6)">lasso</text>
<text x="1008.25" y="1294.6" font-size="13.2" text-anchor="end" font-style="italic" fill="#111" transform="rotate(-68 1008.25 1294.6)">perceptron</text>
<text x="1051.88" y="1294.6" font-size="13.2" text-anchor="end" font-style="italic" fill="#111" transform="rotate(-68 1051.88 1294.6)">linearDiscriminant</text>
<text x="1095.51" y="1294.6" font-size="13.2" text-anchor="end" font-style="italic" fill="#111" transform="rotate(-68 1095.51 1294.6)">naive_bayes</text>
<text x="1139.14" y="1294.6" font-size="13.2" text-anchor="end" font-style="italic" fill="#111" transform="rotate(-68 1139.14 1294.6)">tree</text>
<text x="1182.77" y="1294.6" font-size="13.2" text-anchor="end" font-style="italic" fill="#111" transform="rotate(-68 1182.77 1294.6)">gbm</text>
</g>
</svg>
</body></html>
